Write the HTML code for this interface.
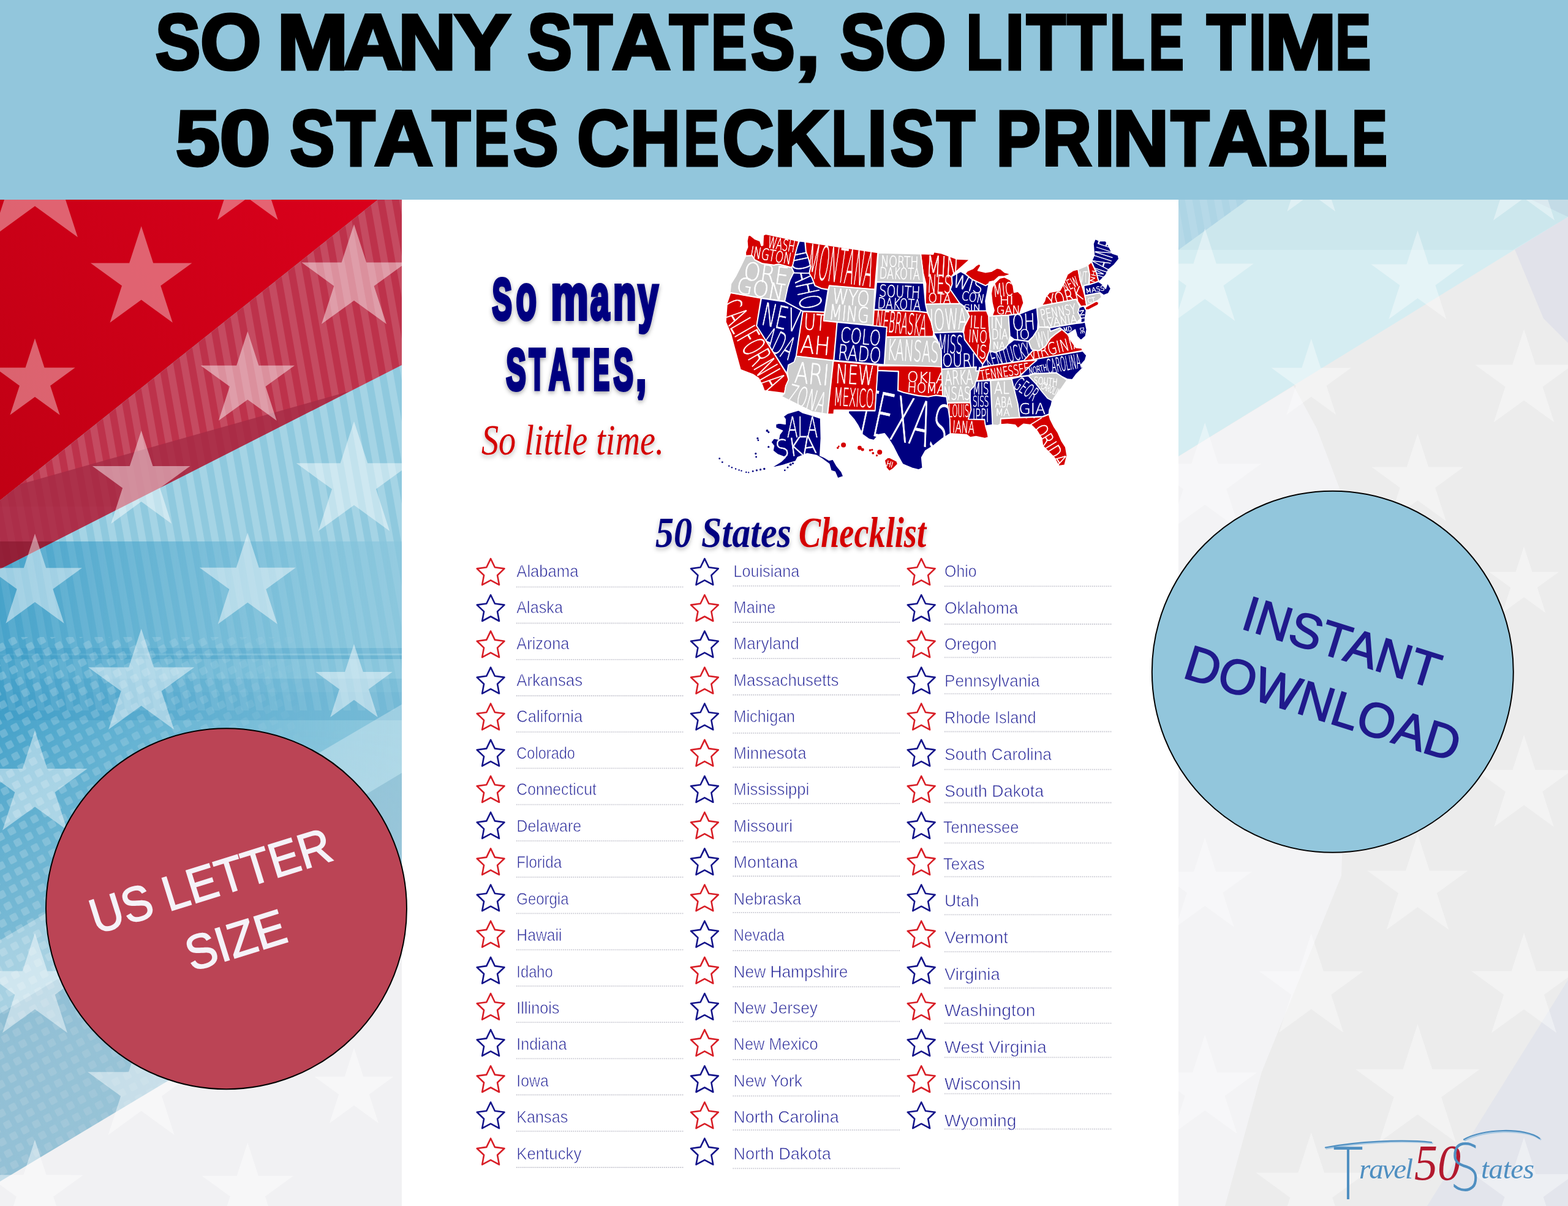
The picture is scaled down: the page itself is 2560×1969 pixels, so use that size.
<!DOCTYPE html>
<html lang="en"><head><meta charset="utf-8"><title>So Many States, So Little Time - 50 States Checklist Printable</title>
<style>html,body{margin:0;padding:0;background:#fff}body{width:2560px;height:1969px;overflow:hidden}svg{display:block}text{white-space:pre}</style></head><body>
<svg width="2560" height="1969" viewBox="0 0 2560 1969">
<defs>
<filter id="ts" x="-10%" y="-20%" width="120%" height="150%"><feDropShadow dx="0" dy="3" stdDeviation="3.5" flood-color="#000" flood-opacity="0.35"/></filter>
<filter id="ts2" x="-10%" y="-20%" width="120%" height="150%"><feDropShadow dx="0" dy="4" stdDeviation="3.5" flood-color="#000" flood-opacity="0.28"/></filter>
<clipPath id="clipL"><rect x="0" y="326" width="656" height="1643"/></clipPath>
<clipPath id="clipR"><rect x="1924" y="326" width="636" height="1643"/></clipPath>
<clipPath id="clipBand"><polygon points="617,326 656,326 656,596 0,929 0,817"/></clipPath>
<clipPath id="clipBlue"><polygon points="656,596 656,1969 0,1969 0,929"/></clipPath>
<pattern id="stripe" width="23.4" height="200" patternUnits="userSpaceOnUse" patternTransform="rotate(-10)"><rect x="0" y="0" width="11.7" height="200" fill="#fff"/></pattern>
<pattern id="half" width="21" height="21" patternUnits="userSpaceOnUse" patternTransform="rotate(-28)"><rect x="4" y="4" width="12" height="12" rx="2" fill="#fff"/></pattern>
<linearGradient id="gSat" x1="0" y1="0" x2="656" y2="0" gradientUnits="userSpaceOnUse"><stop offset="0" stop-color="#3b9cc6" stop-opacity="0.85"/><stop offset="0.45" stop-color="#4aa5cc" stop-opacity="0.5"/><stop offset="1" stop-color="#6fbad8" stop-opacity="0.12"/></linearGradient>
<linearGradient id="gSatV" x1="0" y1="884" x2="0" y2="1969" gradientUnits="userSpaceOnUse"><stop offset="0" stop-color="#fff" stop-opacity="1"/><stop offset="0.28" stop-color="#fff" stop-opacity="1"/><stop offset="0.6" stop-color="#fff" stop-opacity="0.55"/><stop offset="1" stop-color="#fff" stop-opacity="0.35"/></linearGradient>
<mask id="mSat"><rect x="0" y="884" width="656" height="1085" fill="url(#gSatV)"/></mask>
<linearGradient id="gHalf" x1="0" y1="0" x2="520" y2="0" gradientUnits="userSpaceOnUse"><stop offset="0" stop-color="#fff" stop-opacity="1"/><stop offset="0.6" stop-color="#fff" stop-opacity="0.6"/><stop offset="1" stop-color="#fff" stop-opacity="0"/></linearGradient>
<mask id="mHalf"><rect x="0" y="1040" width="656" height="930" fill="url(#gHalf)"/></mask>
<linearGradient id="gRed" x1="0" y1="800" x2="600" y2="330" gradientUnits="userSpaceOnUse"><stop offset="0" stop-color="#c10014"/><stop offset="1" stop-color="#d9001b"/></linearGradient>
<linearGradient id="gMute" x1="0" y1="1200" x2="0" y2="1700" gradientUnits="userSpaceOnUse"><stop offset="0" stop-color="#c3d3dc" stop-opacity="0"/><stop offset="1" stop-color="#c3d3dc" stop-opacity="0.3"/></linearGradient>
</defs>

<g clip-path="url(#clipL)">
<rect x="0" y="326" width="656" height="1643" fill="#8fc9de"/>
<!-- saturated blue, fades to the right and down -->
<g mask="url(#mSat)"><rect x="0" y="884" width="656" height="1085" fill="url(#gSat)"/></g>
<!-- horizontal dark bands -->
<g fill="#2b8fbe">
<rect x="0" y="1058" width="656" height="9" fill-opacity="0.22"/>
<rect x="0" y="1070" width="656" height="6" fill-opacity="0.3"/>
<rect x="0" y="1108" width="656" height="22" fill-opacity="0.16"/>
<rect x="0" y="1130" width="656" height="46" fill-opacity="0.22"/>
</g>
<!-- halftone squares -->
<g mask="url(#mHalf)"><rect x="0" y="1040" width="656" height="930" fill="url(#half)" fill-opacity="0.2"/></g>
<!-- stripes on blue -->
<g clip-path="url(#clipBlue)"><rect x="0" y="560" width="656" height="324" fill="url(#stripe)" fill-opacity="0.2"/><rect x="0" y="884" width="656" height="276" fill="url(#stripe)" fill-opacity="0.08"/></g>
<!-- white wedges -->
<rect x="0" y="1200" width="656" height="769" fill="url(#gMute)"/>
<polygon points="656,1150 656,1262 0,1655 0,1535" fill="#fff" fill-opacity="0.3"/>
<polygon points="656,1262 656,1969 0,1969 0,1655" fill="#a9bfd0" fill-opacity="0.3"/>
<polygon points="0,1929 272,1766 656,1535 656,1969 0,1969" fill="#f1f1f3"/>
<!-- red -->
<polygon points="0,326 617,326 0,817" fill="url(#gRed)"/>
<!-- crimson band -->
<polygon points="617,326 656,326 656,596 0,929 0,817" fill="#bd324b"/>
<g clip-path="url(#clipBand)">
<rect x="0" y="326" width="656" height="620" fill="url(#stripe)" fill-opacity="0.12"/>
<polygon points="0,800 570,639 0,935" fill="#a52b45" fill-opacity="0.8"/>
<rect x="0" y="884" width="656" height="60" fill="#7c1026" fill-opacity="0.5"/>
<rect x="0" y="827" width="656" height="57" fill="#c04560" fill-opacity="0.12"/>
</g>

<g fill="#fff" fill-opacity="0.39"><polygon points="57.0,172.0 83.7,254.2 170.2,254.2 100.2,305.0 126.9,387.3 57.0,336.5 -12.9,387.3 13.8,305.0 -56.2,254.2 30.3,254.2"/><polygon points="404.3,207.0 423.2,265.0 484.2,265.0 434.8,300.9 453.7,359.0 404.3,323.1 354.9,359.0 373.8,300.9 324.4,265.0 385.4,265.0"/><polygon points="230.7,369.3 250.2,429.4 313.4,429.4 262.3,466.6 281.8,526.7 230.7,489.5 179.5,526.7 199.0,466.6 147.9,429.4 211.1,429.4"/><polygon points="57.0,552.6 72.5,600.3 122.6,600.3 82.1,629.7 97.6,677.4 57.0,648.0 16.4,677.4 31.9,629.7 -8.6,600.3 41.5,600.3"/></g><g fill="#fff" fill-opacity="0.46"><polygon points="578.0,366.3 598.2,428.5 663.5,428.5 610.6,466.9 630.9,529.1 578.0,490.7 525.0,529.1 545.3,466.9 492.4,428.5 557.7,428.5"/><polygon points="404.3,541.0 422.4,596.7 481.0,596.7 433.6,631.1 451.7,686.8 404.3,652.4 356.9,686.8 375.0,631.1 327.6,596.7 386.2,596.7"/><polygon points="230.7,702.9 249.5,760.9 310.5,760.9 261.2,796.8 280.0,854.9 230.7,819.0 181.3,854.9 200.1,796.8 150.8,760.9 211.8,760.9"/><polygon points="578.0,687.9 600.2,756.3 672.1,756.3 613.9,798.6 636.1,867.0 578.0,824.7 519.8,867.0 542.0,798.6 483.8,756.3 555.7,756.3"/><polygon points="57.0,871.2 75.2,927.2 134.0,927.2 86.4,961.8 104.6,1017.7 57.0,983.1 9.4,1017.7 27.6,961.8 -20.0,927.2 38.8,927.2"/><polygon points="404.3,869.7 422.8,926.7 482.8,926.7 434.3,961.9 452.8,1018.9 404.3,983.7 355.8,1018.9 374.3,961.9 325.8,926.7 385.8,926.7"/><polygon points="230.7,1026.5 251.1,1089.4 317.2,1089.4 263.7,1128.2 284.1,1191.1 230.7,1152.3 177.2,1191.1 197.6,1128.2 144.1,1089.4 210.2,1089.4"/><polygon points="578.0,1051.5 592.8,1097.1 640.7,1097.1 601.9,1125.3 616.7,1170.9 578.0,1142.7 539.2,1170.9 554.0,1125.3 515.2,1097.1 563.1,1097.1"/><polygon points="57.0,1192.8 77.2,1255.0 142.6,1255.0 89.7,1293.4 109.9,1355.6 57.0,1317.2 4.1,1355.6 24.3,1293.4 -28.6,1255.0 36.8,1255.0"/><polygon points="404.3,1197.8 423.4,1256.5 485.1,1256.5 435.2,1292.8 454.3,1351.6 404.3,1315.3 354.3,1351.6 373.4,1292.8 323.5,1256.5 385.2,1256.5"/><polygon points="230.7,1363.1 249.7,1421.8 311.5,1421.8 261.5,1458.1 280.6,1516.9 230.7,1480.6 180.7,1516.9 199.8,1458.1 149.8,1421.8 211.6,1421.8"/><polygon points="578.0,1363.1 597.0,1421.8 658.8,1421.8 608.8,1458.1 627.9,1516.9 578.0,1480.6 528.0,1516.9 547.1,1458.1 497.1,1421.8 558.9,1421.8"/><polygon points="57.0,1523.4 77.2,1585.6 142.6,1585.6 89.7,1624.0 109.9,1686.2 57.0,1647.8 4.1,1686.2 24.3,1624.0 -28.6,1585.6 36.8,1585.6"/><polygon points="404.3,1528.4 423.4,1587.1 485.1,1587.1 435.2,1623.4 454.3,1682.2 404.3,1645.9 354.3,1682.2 373.4,1623.4 323.5,1587.1 385.2,1587.1"/><polygon points="230.7,1686.7 251.3,1750.3 318.1,1750.3 264.1,1789.6 284.7,1853.1 230.7,1813.8 176.6,1853.1 197.2,1789.6 143.2,1750.3 210.0,1750.3"/><polygon points="578.0,1710.7 593.2,1757.7 642.6,1757.7 602.7,1786.7 617.9,1833.7 578.0,1804.7 538.0,1833.7 553.2,1786.7 513.3,1757.7 562.7,1757.7"/><polygon points="57.0,1861.0 75.6,1918.3 135.9,1918.4 87.2,1953.8 105.8,2011.1 57.0,1975.7 8.2,2011.1 26.8,1953.8 -21.9,1918.4 38.4,1918.3"/><polygon points="404.3,1865.4 421.9,1919.7 479.1,1919.7 432.9,1953.3 450.5,2007.6 404.3,1974.0 358.1,2007.6 375.7,1953.3 329.5,1919.7 386.7,1919.7"/></g>
</g>
<g clip-path="url(#clipR)">
<rect x="1924" y="326" width="636" height="1643" fill="#ececec"/>
<polygon points="1924,745 2112,630 2150,700 2188,800 2205,1000 2190,1430 2060,1750 2000,1969 1924,1969" fill="#f3f3f5"/>
<polygon points="2470,400 2560,354 2560,560 2520,520" fill="#e1e2ea"/>
<polygon points="2560,1600 2560,1969 2330,1969" fill="#e3e5ec"/>
<polygon points="1924,326 2560,326 2560,354 1924,745" fill="#d5edf2"/>
<polygon points="1924,326 2560,326 2560,354 2470,408 1924,408" fill="#c4e1ea" fill-opacity="0.55"/>
<polygon points="1924,326 2037,326 1924,408" fill="#aed5e5"/>
<polygon points="1924,326 2037,326 1924,408" fill="url(#stripe)" fill-opacity="0.1"/>
<polygon points="2500,326 2560,326 2560,354" fill="#c3dbe6"/>

<g fill="#fff" fill-opacity="0.38"><polygon points="2140.8,224.0 2155.8,270.3 2204.5,270.3 2165.1,298.9 2180.2,345.2 2140.8,316.6 2101.4,345.2 2116.5,298.9 2077.1,270.3 2125.8,270.3"/><polygon points="2488.1,206.0 2507.2,264.7 2568.9,264.7 2519.0,301.0 2538.1,359.8 2488.1,323.5 2438.1,359.8 2457.2,301.0 2407.3,264.7 2469.0,264.7"/><polygon points="1967.2,372.7 1985.9,430.5 2046.7,430.5 1997.5,466.2 2016.3,523.9 1967.2,488.2 1918.0,523.9 1936.8,466.2 1887.6,430.5 1948.4,430.5"/><polygon points="2314.5,376.3 2332.4,431.6 2390.5,431.6 2343.5,465.7 2361.5,521.0 2314.5,486.9 2267.4,521.0 2285.4,465.7 2238.4,431.6 2296.5,431.6"/><polygon points="2140.8,553.0 2156.2,600.4 2206.0,600.4 2165.7,629.7 2181.1,677.1 2140.8,647.8 2100.5,677.1 2115.9,629.7 2075.6,600.4 2125.4,600.4"/><polygon points="2488.1,537.6 2507.0,595.6 2568.0,595.6 2518.6,631.5 2537.5,689.6 2488.1,653.7 2438.7,689.6 2457.6,631.5 2408.2,595.6 2469.2,595.6"/><polygon points="1967.2,689.9 1988.9,756.9 2059.4,756.9 2002.4,798.4 2024.2,865.4 1967.2,824.0 1910.1,865.4 1931.9,798.4 1874.9,756.9 1945.4,756.9"/><polygon points="2314.5,707.9 2332.2,762.5 2389.6,762.5 2343.2,796.2 2360.9,850.8 2314.5,817.1 2268.0,850.8 2285.7,796.2 2239.3,762.5 2296.7,762.5"/><polygon points="2140.8,872.2 2158.8,927.5 2216.9,927.5 2169.9,961.6 2187.8,1016.9 2140.8,982.8 2093.8,1016.9 2111.7,961.6 2064.7,927.5 2122.8,927.5"/><polygon points="2488.1,892.2 2501.6,933.7 2545.2,933.7 2509.9,959.3 2523.4,1000.7 2488.1,975.1 2452.8,1000.7 2466.3,959.3 2431.0,933.7 2474.6,933.7"/><polygon points="1967.2,1032.5 1986.2,1091.2 2048.0,1091.2 1998.0,1127.5 2017.1,1186.3 1967.2,1150.0 1917.2,1186.3 1936.3,1127.5 1886.3,1091.2 1948.1,1091.2"/><polygon points="2314.5,1032.5 2333.5,1091.2 2395.3,1091.2 2345.3,1127.5 2364.4,1186.3 2314.5,1150.0 2264.5,1186.3 2283.6,1127.5 2233.6,1091.2 2295.4,1091.2"/><polygon points="2140.8,1197.8 2159.9,1256.5 2221.6,1256.5 2171.7,1292.8 2190.8,1351.6 2140.8,1315.3 2090.8,1351.6 2109.9,1292.8 2060.0,1256.5 2121.7,1256.5"/><polygon points="2488.1,1199.8 2506.7,1257.1 2567.0,1257.2 2518.3,1292.6 2536.9,1349.9 2488.1,1314.5 2439.3,1349.9 2457.9,1292.6 2409.2,1257.2 2469.5,1257.1"/><polygon points="1967.2,1367.4 1985.3,1423.2 2043.9,1423.2 1996.5,1457.6 2014.6,1513.4 1967.2,1478.9 1919.7,1513.4 1937.8,1457.6 1890.4,1423.2 1949.0,1423.2"/><polygon points="2314.5,1361.6 2333.9,1421.4 2396.7,1421.4 2345.9,1458.3 2365.3,1518.1 2314.5,1481.1 2263.6,1518.1 2283.0,1458.3 2232.2,1421.4 2295.0,1421.4"/><polygon points="2140.8,1524.0 2160.9,1585.8 2225.8,1585.8 2173.3,1624.0 2193.3,1685.7 2140.8,1647.6 2088.3,1685.7 2108.3,1624.0 2055.8,1585.8 2120.7,1585.8"/><polygon points="2488.1,1522.9 2508.4,1585.4 2574.2,1585.4 2521.0,1624.1 2541.3,1686.6 2488.1,1648.0 2434.9,1686.6 2455.2,1624.1 2402.0,1585.4 2467.8,1585.4"/><polygon points="1967.2,1689.3 1987.2,1751.1 2052.2,1751.1 1999.6,1789.3 2019.7,1851.0 1967.2,1812.9 1914.6,1851.0 1934.7,1789.3 1882.1,1751.1 1947.1,1751.1"/><polygon points="2314.5,1672.0 2338.4,1745.7 2415.9,1745.7 2353.2,1791.3 2377.2,1865.0 2314.5,1819.5 2251.7,1865.0 2275.7,1791.3 2213.0,1745.7 2290.5,1745.7"/><polygon points="2140.8,1849.0 2162.1,1914.6 2231.2,1914.6 2175.3,1955.2 2196.6,2020.9 2140.8,1980.3 2085.0,2020.9 2106.3,1955.2 2050.4,1914.6 2119.5,1914.6"/><polygon points="2488.1,1857.0 2507.6,1917.1 2570.8,1917.1 2519.7,1954.3 2539.2,2014.4 2488.1,1977.2 2437.0,2014.4 2456.5,1954.3 2405.4,1917.1 2468.6,1917.1"/></g>
</g>
<rect x="656" y="326" width="1268" height="1643" fill="#fff"/>
<clipPath id="cWA"><polygon points="1221.4,384.8 1224.8,384.0 1232.3,390.2 1240.8,393.4 1243.2,401.1 1245.5,400.4 1246.3,384.0 1250.2,382.1 1303.9,393.7 1301.5,403.5 1298.0,416.7 1294.5,432.3 1292.2,436.6 1271.2,431.0 1263.4,432.6 1244.7,430.2 1232.3,424.0 1227.9,417.0 1217.5,417.5 1217.2,412.0 1220.6,403.5 1219.8,393.4"/></clipPath>
<clipPath id="cOR"><polygon points="1217.5,417.9 1227.9,417.5 1232.3,424.5 1244.7,430.7 1263.4,433.0 1271.2,431.5 1292.2,437.1 1296.1,444.7 1289.9,457.2 1286.0,469.6 1281.3,491.7 1242.4,486.4 1191.8,477.7 1193.4,463.4 1201.1,451.0 1210.5,432.3"/></clipPath>
<clipPath id="cID"><polygon points="1305.1,393.7 1314.0,394.6 1315.6,410.5 1319.5,421.4 1323.3,435.4 1321.0,446.3 1325.7,454.1 1330.3,466.5 1341.2,471.2 1351.8,473.1 1346.2,509.3 1310.6,507.9 1281.3,492.2 1286.0,469.6 1289.9,457.2 1296.1,444.7 1292.7,436.9 1294.5,432.3 1298.0,416.7 1301.5,403.5"/></clipPath>
<clipPath id="cMT"><polygon points="1314.8,394.9 1433.1,412.3 1428.1,472.3 1354.0,466.1 1352.1,472.7 1341.2,470.9 1330.7,466.2 1326.0,454.1 1321.3,446.3 1323.7,435.4 1319.8,421.4 1315.9,410.5"/></clipPath>
<clipPath id="cWY"><polygon points="1354.0,466.5 1428.0,472.7 1425.3,531.1 1344.7,523.3"/></clipPath>
<clipPath id="cND"><polygon points="1433.9,412.8 1503.2,414.7 1507.0,444.7 1507.8,461.9 1431.2,460.0"/></clipPath>
<clipPath id="cSD"><polygon points="1431.2,460.6 1507.8,462.5 1510.9,496.9 1514.0,510.1 1496.9,507.8 1427.2,505.1"/></clipPath>
<clipPath id="cNE"><polygon points="1427.2,505.8 1496.9,508.4 1514.0,510.7 1520.3,525.7 1524.2,543.1 1523.4,549.0 1446.8,549.8 1447.9,533.8 1425.3,531.9"/></clipPath>
<clipPath id="cKS"><polygon points="1447.1,550.3 1523.4,549.5 1531.2,556.8 1536.6,572.4 1536.9,598.8 1444.0,595.3"/></clipPath>
<clipPath id="cCO"><polygon points="1366.9,526.1 1425.3,531.9 1447.6,534.2 1443.5,595.3 1361.5,588.3"/></clipPath>
<clipPath id="cUT"><polygon points="1310.9,508.6 1345.9,509.8 1344.7,523.8 1366.5,526.1 1361.0,588.3 1300.0,581.3"/></clipPath>
<clipPath id="cNV"><polygon points="1243.2,487.1 1281.3,492.7 1310.6,508.2 1299.7,581.3 1296.4,591.1 1287.1,595.7 1284.7,609.7 1235.4,531.9"/></clipPath>
<clipPath id="cCA"><polygon points="1192.6,478.2 1242.4,486.8 1235.1,531.9 1284.4,610.2 1287.5,619.9 1282.9,630.0 1280.8,642.1 1247.8,637.8 1244.4,628.4 1238.5,617.5 1229.2,611.3 1208.9,603.5 1199.6,569.3 1193.4,545.9 1184.8,525.7 1187.1,494.5"/></clipPath>
<clipPath id="cAZ"><polygon points="1286.8,595.8 1288.3,591.1 1296.1,590.4 1299.5,581.5 1360.2,588.8 1350.9,676.0 1325.7,672.1 1275.9,647.2 1280.8,642.5 1282.9,630.1 1287.5,619.9 1285.2,606.7"/></clipPath>
<clipPath id="cNM"><polygon points="1360.7,589.3 1433.4,596.1 1428.7,670.2 1361.8,669.4 1361.2,676.0 1351.4,676.0"/></clipPath>
<clipPath id="cTX"><polygon points="1433.1,605.1 1466.6,606.7 1465.8,637.8 1475.1,641.0 1489.1,644.1 1500.0,646.4 1515.6,648.0 1528.1,645.6 1539.0,647.2 1545.2,648.0 1546.7,658.1 1548.3,669.0 1550.6,684.5 1551.4,707.9 1539.0,715.7 1523.4,728.1 1510.9,735.9 1504.7,746.8 1506.3,763.9 1500.0,767.1 1489.1,764.3 1473.6,757.7 1465.8,743.7 1458.0,728.1 1450.2,715.7 1444.0,707.9 1434.7,709.5 1426.9,718.8 1419.1,717.2 1408.2,709.5 1400.4,693.9 1394.2,684.5 1385.1,674.4 1385.6,670.5 1428.7,670.8"/></clipPath>
<clipPath id="cOK"><polygon points="1433.4,597.1 1536.9,597.7 1537.4,602.8 1539.0,646.4 1528.1,645.2 1515.6,647.5 1500.0,645.9 1489.1,643.6 1475.1,640.5 1466.3,637.4 1467.0,606.2 1433.4,604.7"/></clipPath>
<clipPath id="cAK"><polygon points="1279.0,679.9 1285.2,675.2 1303.9,669.8 1310.1,673.6 1325.7,678.3 1339.7,683.0 1340.5,715.7 1338.9,743.7 1345.9,746.8 1353.7,751.5 1359.9,749.9 1366.2,760.8 1373.9,770.2 1377.1,777.9 1367.7,781.1 1363.0,770.2 1356.8,768.6 1353.7,757.7 1341.2,748.4 1333.5,743.7 1317.9,740.6 1302.3,746.8 1299.2,753.0 1288.3,756.2 1279.0,759.3 1266.5,762.4 1257.2,763.9 1263.4,760.8 1275.9,753.0 1282.1,746.8 1269.6,742.1 1261.9,735.9 1263.4,728.1 1258.7,721.9 1263.4,715.7 1271.2,717.2 1272.7,709.5 1277.4,703.2 1266.5,698.6 1266.5,692.3 1272.7,690.8 1282.1,692.3 1282.1,684.5"/></clipPath>
<clipPath id="cHI"><polygon points="1444.0,751.5 1450.2,746.0 1464.2,753.0 1465.8,757.7 1458.0,765.5 1451.8,769.4 1447.1,763.9"/></clipPath>
<clipPath id="cMN"><polygon points="1503.1,414.4 1523.4,415.1 1524.9,411.3 1537.4,413.6 1562.3,422.9 1581.0,423.7 1582.0,424.8 1568.5,436.9 1557.6,446.3 1553.7,451.0 1554.5,463.4 1551.4,472.7 1562.3,488.3 1566.9,495.3 1510.9,496.4 1511.7,463.4 1507.0,444.7"/></clipPath>
<clipPath id="cWI"><polygon points="1554.0,451.3 1568.5,443.2 1576.3,447.8 1587.2,456.4 1609.0,466.5 1614.4,463.4 1612.1,475.9 1609.0,491.4 1610.5,507.0 1577.8,507.3 1573.2,499.5 1566.9,494.9 1562.3,488.3 1551.7,472.7 1554.8,463.4"/></clipPath>
<clipPath id="cMI"><polygon points="1619.9,469.6 1624.5,461.9 1632.3,454.1 1640.1,452.5 1649.5,457.2 1654.1,466.5 1655.7,477.4 1661.9,475.9 1668.1,482.1 1671.2,494.5 1667.4,503.9 1665.0,512.0 1646.3,514.3 1619.9,515.6 1623.0,507.0 1619.9,494.5 1618.3,479.0"/></clipPath>
<clipPath id="cIA"><polygon points="1511.2,496.9 1566.9,495.8 1573.2,500.0 1577.8,507.8 1582.5,516.6 1577.8,525.7 1574.7,531.9 1571.1,541.6 1524.4,543.1 1520.5,525.7 1514.3,510.1"/></clipPath>
<clipPath id="cIL"><polygon points="1579.4,508.2 1610.5,507.5 1614.0,516.3 1614.7,533.5 1617.1,556.8 1615.5,572.4 1609.0,587.9 1604.3,594.5 1599.6,588.3 1587.2,571.1 1574.7,554.0 1573.2,543.1 1575.0,532.7 1582.8,517.1"/></clipPath>
<clipPath id="cIN"><polygon points="1614.4,516.3 1646.3,514.8 1648.7,549.0 1646.3,561.5 1640.1,569.3 1632.3,572.4 1624.5,575.5 1615.5,572.4 1617.1,556.8 1614.7,533.5"/></clipPath>
<clipPath id="cOH"><polygon points="1646.6,514.8 1665.0,512.4 1679.0,507.0 1692.6,502.3 1694.6,525.7 1693.8,538.1 1686.8,549.0 1679.0,556.8 1668.1,555.6 1655.7,554.0 1649.0,549.0"/></clipPath>
<clipPath id="cKY"><polygon points="1604.3,595.3 1609.0,588.3 1615.5,572.7 1624.5,575.8 1632.3,572.7 1640.1,569.6 1646.3,561.8 1655.7,554.6 1668.1,556.2 1679.0,557.4 1683.7,569.6 1686.8,571.6 1671.2,588.7 1616.8,596.8 1602.7,598.8 1603.5,595.3"/></clipPath>
<clipPath id="cWV"><polygon points="1679.3,557.1 1686.8,549.3 1694.1,538.4 1696.5,533.8 1713.3,535.0 1714.8,541.2 1730.4,535.3 1733.5,537.7 1724.2,544.4 1714.8,552.1 1707.1,564.6 1696.2,572.4 1687.1,571.1 1684.0,569.6"/></clipPath>
<clipPath id="cVA"><polygon points="1671.6,588.7 1687.1,571.9 1696.5,572.7 1707.4,564.9 1715.1,552.5 1724.5,544.7 1733.8,538.1 1742.9,545.9 1749.1,556.8 1756.9,567.7 1766.2,568.5 1767.3,572.4 1672.8,589.5"/></clipPath>
<clipPath id="cPA"><polygon points="1693.0,502.6 1700.8,499.5 1756.9,488.6 1763.1,500.8 1760.0,510.1 1764.7,519.5 1756.9,527.5 1713.3,534.6 1696.5,533.5 1694.9,525.7"/></clipPath>
<clipPath id="cNY"><polygon points="1700.8,498.9 1705.5,491.4 1707.1,485.2 1713.3,477.4 1730.4,474.3 1736.6,463.4 1742.9,447.8 1752.2,441.6 1760.0,439.6 1763.1,457.2 1767.8,471.2 1770.9,482.4 1774.0,499.2 1764.7,500.0 1756.9,488.3"/></clipPath>
<clipPath id="cNJ"><polygon points="1761.9,502.3 1769.3,499.5 1773.5,507.0 1772.0,516.3 1771.2,525.7 1764.7,527.2 1765.0,519.5 1760.3,510.1"/></clipPath>
<clipPath id="cMD"><polygon points="1713.6,535.3 1756.9,528.2 1764.7,527.5 1771.7,526.0 1774.3,538.1 1772.4,549.0 1764.7,555.6 1758.4,549.0 1755.3,538.1 1743.2,545.6 1733.8,537.7 1730.4,535.0 1715.1,540.9"/></clipPath>
<clipPath id="cVT"><polygon points="1760.3,439.6 1775.6,433.4 1778.7,447.8 1777.4,463.7 1769.6,466.1 1768.1,471.2 1763.4,457.2"/></clipPath>
<clipPath id="cNH"><polygon points="1776.3,432.6 1781.8,427.9 1789.6,444.7 1793.5,459.0 1778.7,464.2 1779.0,447.8"/></clipPath>
<clipPath id="cME"><polygon points="1782.1,426.8 1786.4,416.7 1784.9,398.0 1788.0,390.2 1795.8,393.4 1805.1,393.4 1809.8,401.1 1816.0,413.6 1825.4,416.7 1826.9,422.9 1819.1,432.3 1809.8,440.1 1805.1,449.4 1795.8,458.7 1793.8,458.7 1789.9,444.7"/></clipPath>
<clipPath id="cMA"><polygon points="1769.6,466.5 1778.7,464.7 1793.5,459.8 1798.9,463.4 1805.1,471.2 1808.2,461.9 1813.7,471.2 1809.8,479.0 1802.0,482.1 1795.8,477.7 1771.2,482.4"/></clipPath>
<clipPath id="cCT"><polygon points="1771.2,482.9 1795.8,478.2 1798.9,485.2 1792.7,490.2 1774.3,499.2"/></clipPath>
<clipPath id="cMO"><polygon points="1524.4,543.6 1571.1,542.0 1573.2,543.6 1574.7,554.5 1587.2,571.6 1599.6,588.7 1604.3,595.3 1602.7,600.7 1598.9,599.9 1598.1,605.4 1593.4,605.4 1594.2,599.2 1537.4,602.3 1536.9,572.4 1531.4,556.8"/></clipPath>
<clipPath id="cTN"><polygon points="1599.6,601.3 1616.8,597.4 1671.2,589.6 1693.0,588.0 1683.7,595.8 1674.4,605.1 1663.5,614.5 1616.8,619.9 1595.0,621.5 1597.3,611.4"/></clipPath>
<clipPath id="cNC"><polygon points="1672.8,589.6 1767.8,573.2 1774.0,580.2 1771.7,588.0 1764.7,595.8 1767.8,600.5 1756.9,611.4 1750.6,619.9 1742.9,619.2 1733.5,614.5 1724.2,608.3 1710.2,609.0 1686.8,609.8 1679.0,612.9 1665.0,614.5 1674.4,605.1 1683.7,595.8 1693.0,588.0"/></clipPath>
<clipPath id="cSC"><polygon points="1679.0,613.7 1686.8,610.6 1710.2,609.5 1724.2,608.6 1733.5,614.8 1742.1,620.7 1733.5,633.2 1722.6,647.2 1717.9,654.2 1710.2,650.3 1702.4,641.0 1691.5,626.9"/></clipPath>
<clipPath id="cGA"><polygon points="1651.8,618.4 1665.0,615.3 1679.0,613.7 1691.5,626.9 1702.4,641.0 1710.2,650.3 1717.9,654.2 1716.4,661.2 1713.3,669.0 1712.5,676.0 1702.4,679.9 1665.0,681.4 1661.9,659.6 1655.7,634.7"/></clipPath>
<clipPath id="cAL"><polygon points="1617.5,621.5 1651.8,618.8 1655.7,634.7 1661.9,659.6 1664.7,681.4 1633.9,683.0 1633.1,692.3 1629.2,694.7 1620.7,693.9 1619.9,684.5"/></clipPath>
<clipPath id="cMS"><polygon points="1593.4,622.3 1616.8,621.5 1619.9,684.5 1620.3,693.6 1609.0,695.4 1607.4,684.5 1581.0,684.5 1585.6,669.0 1584.1,653.4 1584.1,637.8 1591.9,628.5"/></clipPath>
<clipPath id="cFL"><polygon points="1633.6,683.8 1664.7,682.2 1702.4,680.7 1712.5,676.8 1714.8,684.5 1721.1,697.0 1727.3,706.3 1733.5,720.3 1739.7,729.7 1742.1,743.7 1738.2,759.3 1728.8,760.8 1721.1,746.8 1710.2,735.9 1702.4,728.1 1700.8,715.7 1693.0,703.2 1683.7,693.9 1671.2,692.3 1661.9,699.3 1657.2,693.9 1644.8,692.3 1633.9,693.1"/></clipPath>
<clipPath id="cLA"><polygon points="1546.7,658.1 1584.1,657.3 1585.6,669.0 1581.0,684.5 1607.4,685.3 1609.0,696.2 1612.1,706.3 1613.6,714.1 1607.4,715.7 1593.4,712.6 1584.1,714.1 1577.8,709.5 1551.4,707.9 1550.6,684.5 1548.3,669.0"/></clipPath>
<clipPath id="cAR"><polygon points="1537.4,602.8 1593.4,599.7 1593.4,605.9 1598.1,605.9 1596.5,612.9 1593.4,622.3 1591.9,628.5 1584.1,637.8 1584.1,656.5 1546.7,657.3 1545.1,647.2 1538.9,646.4"/></clipPath>
<g id="usmap" stroke="#fff" stroke-width="1.7" stroke-linejoin="round">
<g fill="#d40000"><polygon points="1221.4,384.8 1224.8,384.0 1232.3,390.2 1240.8,393.4 1243.2,401.1 1245.5,400.4 1246.3,384.0 1250.2,382.1 1303.9,393.7 1301.5,403.5 1298.0,416.7 1294.5,432.3 1292.2,436.6 1271.2,431.0 1263.4,432.6 1244.7,430.2 1232.3,424.0 1227.9,417.0 1217.5,417.5 1217.2,412.0 1220.6,403.5 1219.8,393.4"/><polygon points="1314.8,394.9 1433.1,412.3 1428.1,472.3 1354.0,466.1 1352.1,472.7 1341.2,470.9 1330.7,466.2 1326.0,454.1 1321.3,446.3 1323.7,435.4 1319.8,421.4 1315.9,410.5"/><polygon points="1427.2,505.8 1496.9,508.4 1514.0,510.7 1520.3,525.7 1524.2,543.1 1523.4,549.0 1446.8,549.8 1447.9,533.8 1425.3,531.9"/><polygon points="1310.9,508.6 1345.9,509.8 1344.7,523.8 1366.5,526.1 1361.0,588.3 1300.0,581.3"/><polygon points="1192.6,478.2 1242.4,486.8 1235.1,531.9 1284.4,610.2 1287.5,619.9 1282.9,630.0 1280.8,642.1 1247.8,637.8 1244.4,628.4 1238.5,617.5 1229.2,611.3 1208.9,603.5 1199.6,569.3 1193.4,545.9 1184.8,525.7 1187.1,494.5"/><polygon points="1360.7,589.3 1433.4,596.1 1428.7,670.2 1361.8,669.4 1361.2,676.0 1351.4,676.0"/><polygon points="1433.4,597.1 1536.9,597.7 1537.4,602.8 1539.0,646.4 1528.1,645.2 1515.6,647.5 1500.0,645.9 1489.1,643.6 1475.1,640.5 1466.3,637.4 1467.0,606.2 1433.4,604.7"/><polygon points="1444.0,751.5 1450.2,746.0 1464.2,753.0 1465.8,757.7 1458.0,765.5 1451.8,769.4 1447.1,763.9"/><polygon points="1503.1,414.4 1523.4,415.1 1524.9,411.3 1537.4,413.6 1562.3,422.9 1581.0,423.7 1582.0,424.8 1568.5,436.9 1557.6,446.3 1553.7,451.0 1554.5,463.4 1551.4,472.7 1562.3,488.3 1566.9,495.3 1510.9,496.4 1511.7,463.4 1507.0,444.7"/><polygon points="1576.3,446.3 1579.4,442.4 1588.7,438.5 1593.4,433.8 1598.9,430.7 1601.2,433.8 1596.5,441.6 1609.0,444.7 1618.3,443.2 1627.7,437.7 1633.9,439.3 1640.1,444.7 1647.1,446.3 1647.9,448.6 1640.1,451.0 1630.8,451.7 1623.0,458.7 1615.2,460.3 1614.4,463.1 1609.0,466.2 1587.2,456.1 1576.6,447.5"/><polygon points="1619.9,469.6 1624.5,461.9 1632.3,454.1 1640.1,452.5 1649.5,457.2 1654.1,466.5 1655.7,477.4 1661.9,475.9 1668.1,482.1 1671.2,494.5 1667.4,503.9 1665.0,512.0 1646.3,514.3 1619.9,515.6 1623.0,507.0 1619.9,494.5 1618.3,479.0"/><polygon points="1579.4,508.2 1610.5,507.5 1614.0,516.3 1614.7,533.5 1617.1,556.8 1615.5,572.4 1609.0,587.9 1604.3,594.5 1599.6,588.3 1587.2,571.1 1574.7,554.0 1573.2,543.1 1575.0,532.7 1582.8,517.1"/><polygon points="1671.6,588.7 1687.1,571.9 1696.5,572.7 1707.4,564.9 1715.1,552.5 1724.5,544.7 1733.8,538.1 1742.9,545.9 1749.1,556.8 1756.9,567.7 1766.2,568.5 1767.3,572.4 1672.8,589.5"/><polygon points="1700.8,498.9 1705.5,491.4 1707.1,485.2 1713.3,477.4 1730.4,474.3 1736.6,463.4 1742.9,447.8 1752.2,441.6 1760.0,439.6 1763.1,457.2 1767.8,471.2 1770.9,482.4 1774.0,499.2 1764.7,500.0 1756.9,488.3"/><polygon points="1772.1,501.5 1789.6,491.9 1793.9,493.5 1793.0,497.7 1777.4,505.8 1772.4,505.8"/><polygon points="1776.3,432.6 1781.8,427.9 1789.6,444.7 1793.5,459.0 1778.7,464.2 1779.0,447.8"/><polygon points="1599.6,601.3 1616.8,597.4 1671.2,589.6 1693.0,588.0 1683.7,595.8 1674.4,605.1 1663.5,614.5 1616.8,619.9 1595.0,621.5 1597.3,611.4"/><polygon points="1633.6,683.8 1664.7,682.2 1702.4,680.7 1712.5,676.8 1714.8,684.5 1721.1,697.0 1727.3,706.3 1733.5,720.3 1739.7,729.7 1742.1,743.7 1738.2,759.3 1728.8,760.8 1721.1,746.8 1710.2,735.9 1702.4,728.1 1700.8,715.7 1693.0,703.2 1683.7,693.9 1671.2,692.3 1661.9,699.3 1657.2,693.9 1644.8,692.3 1633.9,693.1"/><polygon points="1546.7,658.1 1584.1,657.3 1585.6,669.0 1581.0,684.5 1607.4,685.3 1609.0,696.2 1612.1,706.3 1613.6,714.1 1607.4,715.7 1593.4,712.6 1584.1,714.1 1577.8,709.5 1551.4,707.9 1550.6,684.5 1548.3,669.0"/><circle cx="1367.7" cy="731.2" r="1.7" stroke="none"/><circle cx="1369.3" cy="728.9" r="1.4" stroke="none"/><circle cx="1377.1" cy="726.6" r="4.0" stroke="none"/><circle cx="1403.5" cy="731.2" r="3.4" stroke="none"/><circle cx="1408.2" cy="734.0" r="2.5" stroke="none"/><circle cx="1420.6" cy="735.1" r="1.9" stroke="none"/><circle cx="1423.8" cy="734.4" r="1.6" stroke="none"/><circle cx="1425.3" cy="739.8" r="1.9" stroke="none"/><circle cx="1436.2" cy="738.3" r="4.0" stroke="none"/><circle cx="1431.5" cy="743.7" r="1.6" stroke="none"/></g>
<g fill="#cccccc"><polygon points="1217.5,417.9 1227.9,417.5 1232.3,424.5 1244.7,430.7 1263.4,433.0 1271.2,431.5 1292.2,437.1 1296.1,444.7 1289.9,457.2 1286.0,469.6 1281.3,491.7 1242.4,486.4 1191.8,477.7 1193.4,463.4 1201.1,451.0 1210.5,432.3"/><polygon points="1354.0,466.5 1428.0,472.7 1425.3,531.1 1344.7,523.3"/><polygon points="1433.9,412.8 1503.2,414.7 1507.0,444.7 1507.8,461.9 1431.2,460.0"/><polygon points="1447.1,550.3 1523.4,549.5 1531.2,556.8 1536.6,572.4 1536.9,598.8 1444.0,595.3"/><polygon points="1286.8,595.8 1288.3,591.1 1296.1,590.4 1299.5,581.5 1360.2,588.8 1350.9,676.0 1325.7,672.1 1275.9,647.2 1280.8,642.5 1282.9,630.1 1287.5,619.9 1285.2,606.7"/><polygon points="1511.2,496.9 1566.9,495.8 1573.2,500.0 1577.8,507.8 1582.5,516.6 1577.8,525.7 1574.7,531.9 1571.1,541.6 1524.4,543.1 1520.5,525.7 1514.3,510.1"/><polygon points="1614.4,516.3 1646.3,514.8 1648.7,549.0 1646.3,561.5 1640.1,569.3 1632.3,572.4 1624.5,575.5 1615.5,572.4 1617.1,556.8 1614.7,533.5"/><polygon points="1679.3,557.1 1686.8,549.3 1694.1,538.4 1696.5,533.8 1713.3,535.0 1714.8,541.2 1730.4,535.3 1733.5,537.7 1724.2,544.4 1714.8,552.1 1707.1,564.6 1696.2,572.4 1687.1,571.1 1684.0,569.6"/><polygon points="1693.0,502.6 1700.8,499.5 1756.9,488.6 1763.1,500.8 1760.0,510.1 1764.7,519.5 1756.9,527.5 1713.3,534.6 1696.5,533.5 1694.9,525.7"/><polygon points="1760.3,439.6 1775.6,433.4 1778.7,447.8 1777.4,463.7 1769.6,466.1 1768.1,471.2 1763.4,457.2"/><polygon points="1771.2,482.9 1795.8,478.2 1798.9,485.2 1792.7,490.2 1774.3,499.2"/><polygon points="1679.0,613.7 1686.8,610.6 1710.2,609.5 1724.2,608.6 1733.5,614.8 1742.1,620.7 1733.5,633.2 1722.6,647.2 1717.9,654.2 1710.2,650.3 1702.4,641.0 1691.5,626.9"/><polygon points="1617.5,621.5 1651.8,618.8 1655.7,634.7 1661.9,659.6 1664.7,681.4 1633.9,683.0 1633.1,692.3 1629.2,694.7 1620.7,693.9 1619.9,684.5"/><polygon points="1537.4,602.8 1593.4,599.7 1593.4,605.9 1598.1,605.9 1596.5,612.9 1593.4,622.3 1591.9,628.5 1584.1,637.8 1584.1,656.5 1546.7,657.3 1545.1,647.2 1538.9,646.4"/></g>
<g fill="#000080"><polygon points="1305.1,393.7 1314.0,394.6 1315.6,410.5 1319.5,421.4 1323.3,435.4 1321.0,446.3 1325.7,454.1 1330.3,466.5 1341.2,471.2 1351.8,473.1 1346.2,509.3 1310.6,507.9 1281.3,492.2 1286.0,469.6 1289.9,457.2 1296.1,444.7 1292.7,436.9 1294.5,432.3 1298.0,416.7 1301.5,403.5"/><polygon points="1431.2,460.6 1507.8,462.5 1510.9,496.9 1514.0,510.1 1496.9,507.8 1427.2,505.1"/><polygon points="1366.9,526.1 1425.3,531.9 1447.6,534.2 1443.5,595.3 1361.5,588.3"/><polygon points="1243.2,487.1 1281.3,492.7 1310.6,508.2 1299.7,581.3 1296.4,591.1 1287.1,595.7 1284.7,609.7 1235.4,531.9"/><polygon points="1433.1,605.1 1466.6,606.7 1465.8,637.8 1475.1,641.0 1489.1,644.1 1500.0,646.4 1515.6,648.0 1528.1,645.6 1539.0,647.2 1545.2,648.0 1546.7,658.1 1548.3,669.0 1550.6,684.5 1551.4,707.9 1539.0,715.7 1523.4,728.1 1510.9,735.9 1504.7,746.8 1506.3,763.9 1500.0,767.1 1489.1,764.3 1473.6,757.7 1465.8,743.7 1458.0,728.1 1450.2,715.7 1444.0,707.9 1434.7,709.5 1426.9,718.8 1419.1,717.2 1408.2,709.5 1400.4,693.9 1394.2,684.5 1385.1,674.4 1385.6,670.5 1428.7,670.8"/><polygon points="1279.0,679.9 1285.2,675.2 1303.9,669.8 1310.1,673.6 1325.7,678.3 1339.7,683.0 1340.5,715.7 1338.9,743.7 1345.9,746.8 1353.7,751.5 1359.9,749.9 1366.2,760.8 1373.9,770.2 1377.1,777.9 1367.7,781.1 1363.0,770.2 1356.8,768.6 1353.7,757.7 1341.2,748.4 1333.5,743.7 1317.9,740.6 1302.3,746.8 1299.2,753.0 1288.3,756.2 1279.0,759.3 1266.5,762.4 1257.2,763.9 1263.4,760.8 1275.9,753.0 1282.1,746.8 1269.6,742.1 1261.9,735.9 1263.4,728.1 1258.7,721.9 1263.4,715.7 1271.2,717.2 1272.7,709.5 1277.4,703.2 1266.5,698.6 1266.5,692.3 1272.7,690.8 1282.1,692.3 1282.1,684.5"/><polygon points="1554.0,451.3 1568.5,443.2 1576.3,447.8 1587.2,456.4 1609.0,466.5 1614.4,463.4 1612.1,475.9 1609.0,491.4 1610.5,507.0 1577.8,507.3 1573.2,499.5 1566.9,494.9 1562.3,488.3 1551.7,472.7 1554.8,463.4"/><polygon points="1646.6,514.8 1665.0,512.4 1679.0,507.0 1692.6,502.3 1694.6,525.7 1693.8,538.1 1686.8,549.0 1679.0,556.8 1668.1,555.6 1655.7,554.0 1649.0,549.0"/><polygon points="1604.3,595.3 1609.0,588.3 1615.5,572.7 1624.5,575.8 1632.3,572.7 1640.1,569.6 1646.3,561.8 1655.7,554.6 1668.1,556.2 1679.0,557.4 1683.7,569.6 1686.8,571.6 1671.2,588.7 1616.8,596.8 1602.7,598.8 1603.5,595.3"/><polygon points="1761.9,502.3 1769.3,499.5 1773.5,507.0 1772.0,516.3 1771.2,525.7 1764.7,527.2 1765.0,519.5 1760.3,510.1"/><polygon points="1713.6,535.3 1756.9,528.2 1764.7,527.5 1771.7,526.0 1774.3,538.1 1772.4,549.0 1764.7,555.6 1758.4,549.0 1755.3,538.1 1743.2,545.6 1733.8,537.7 1730.4,535.0 1715.1,540.9"/><polygon points="1782.1,426.8 1786.4,416.7 1784.9,398.0 1788.0,390.2 1795.8,393.4 1805.1,393.4 1809.8,401.1 1816.0,413.6 1825.4,416.7 1826.9,422.9 1819.1,432.3 1809.8,440.1 1805.1,449.4 1795.8,458.7 1793.8,458.7 1789.9,444.7"/><polygon points="1769.6,466.5 1778.7,464.7 1793.5,459.8 1798.9,463.4 1805.1,471.2 1808.2,461.9 1813.7,471.2 1809.8,479.0 1802.0,482.1 1795.8,477.7 1771.2,482.4"/><polygon points="1524.4,543.6 1571.1,542.0 1573.2,543.6 1574.7,554.5 1587.2,571.6 1599.6,588.7 1604.3,595.3 1602.7,600.7 1598.9,599.9 1598.1,605.4 1593.4,605.4 1594.2,599.2 1537.4,602.3 1536.9,572.4 1531.4,556.8"/><polygon points="1672.8,589.6 1767.8,573.2 1774.0,580.2 1771.7,588.0 1764.7,595.8 1767.8,600.5 1756.9,611.4 1750.6,619.9 1742.9,619.2 1733.5,614.5 1724.2,608.3 1710.2,609.0 1686.8,609.8 1679.0,612.9 1665.0,614.5 1674.4,605.1 1683.7,595.8 1693.0,588.0"/><polygon points="1651.8,618.4 1665.0,615.3 1679.0,613.7 1691.5,626.9 1702.4,641.0 1710.2,650.3 1717.9,654.2 1716.4,661.2 1713.3,669.0 1712.5,676.0 1702.4,679.9 1665.0,681.4 1661.9,659.6 1655.7,634.7"/><polygon points="1593.4,622.3 1616.8,621.5 1619.9,684.5 1620.3,693.6 1609.0,695.4 1607.4,684.5 1581.0,684.5 1585.6,669.0 1584.1,653.4 1584.1,637.8 1591.9,628.5"/><circle cx="1174.7" cy="748.7" r="1.4" stroke="none"/><circle cx="1179.3" cy="754.6" r="1.4" stroke="none"/><circle cx="1190.2" cy="760.8" r="1.2" stroke="none"/><circle cx="1194.9" cy="763.2" r="1.2" stroke="none"/><circle cx="1201.1" cy="765.5" r="1.2" stroke="none"/><circle cx="1206.6" cy="767.4" r="1.2" stroke="none"/><circle cx="1210.5" cy="768.6" r="1.2" stroke="none"/><circle cx="1218.3" cy="770.9" r="1.2" stroke="none"/><circle cx="1222.2" cy="771.4" r="1.1" stroke="none"/><circle cx="1229.2" cy="769.4" r="1.4" stroke="none"/><circle cx="1235.4" cy="767.8" r="1.6" stroke="none"/><circle cx="1241.6" cy="766.7" r="1.6" stroke="none"/><circle cx="1247.8" cy="765.5" r="1.7" stroke="none"/><circle cx="1252.5" cy="703.2" r="1.9" stroke="none"/><circle cx="1254.8" cy="705.6" r="1.6" stroke="none"/><circle cx="1236.9" cy="715.7" r="1.6" stroke="none"/><circle cx="1237.9" cy="718.8" r="1.4" stroke="none"/><circle cx="1233.8" cy="740.6" r="1.6" stroke="none"/><circle cx="1234.6" cy="746.0" r="1.4" stroke="none"/><circle cx="1254.8" cy="729.7" r="1.6" stroke="none"/><circle cx="1281.3" cy="767.8" r="1.4" stroke="none"/><circle cx="1286.0" cy="763.2" r="1.4" stroke="none"/><circle cx="1290.7" cy="758.5" r="1.9" stroke="none"/><circle cx="1294.5" cy="756.5" r="1.6" stroke="none"/></g>
</g>
<g id="maplabels" font-family="'DejaVu Sans', 'Liberation Sans', sans-serif" font-weight="200" fill="#fff" stroke="#fff" stroke-width="0.55" text-anchor="middle">
<g clip-path="url(#cWA)">
<text transform="translate(1275.9 398.8) rotate(10) scale(0.576 1)" y="9.3" font-size="25.6" vector-effect="non-scaling-stroke">WASH</text>
<text transform="translate(1258.7 416.7) rotate(10) scale(0.674 1)" y="9.3" font-size="25.6" vector-effect="non-scaling-stroke">INGTON</text>
</g>
<g clip-path="url(#cOR)">
<text transform="translate(1251.0 446.3) rotate(8) scale(0.853 1)" y="14.8" font-size="40.6" vector-effect="non-scaling-stroke">ORE</text>
<text transform="translate(1241.6 471.2) rotate(10) scale(0.928 1)" y="13.2" font-size="36.3" vector-effect="non-scaling-stroke">GON</text>
</g>
<g clip-path="url(#cID)">
<text transform="translate(1315.6 457.2) rotate(78) scale(0.598 1)" y="17.9" font-size="49.1" vector-effect="non-scaling-stroke">IDAHO</text>
</g>
<g clip-path="url(#cMT)">
<text transform="translate(1372.4 433.0) rotate(8) scale(0.277 1)" y="28.0" font-size="76.9" vector-effect="non-scaling-stroke">MONTANA</text>
</g>
<g clip-path="url(#cWY)">
<text transform="translate(1389.5 485.2) rotate(5) scale(0.764 1)" y="12.5" font-size="34.2" vector-effect="non-scaling-stroke">WYO</text>
<text transform="translate(1386.4 511.7) rotate(5) scale(0.714 1)" y="12.5" font-size="34.2" vector-effect="non-scaling-stroke">MING</text>
</g>
<g clip-path="url(#cND)">
<text transform="translate(1468.9 426.8) rotate(2) scale(0.706 1)" y="9.0" font-size="24.6" vector-effect="non-scaling-stroke">NORTH</text>
<text transform="translate(1468.9 446.3) rotate(2) scale(0.638 1)" y="9.3" font-size="25.6" vector-effect="non-scaling-stroke">DAKOTA</text>
</g>
<g clip-path="url(#cSD)">
<text transform="translate(1468.9 475.9) rotate(3) scale(0.713 1)" y="9.7" font-size="26.7" vector-effect="non-scaling-stroke">SOUTH</text>
<text transform="translate(1468.1 496.1) rotate(3) scale(0.711 1)" y="9.0" font-size="24.6" vector-effect="non-scaling-stroke">DAKOTA</text>
</g>
<g clip-path="url(#cNE)">
<text transform="translate(1471.2 527.2) rotate(6) scale(0.332 1)" y="17.1" font-size="47.0" vector-effect="non-scaling-stroke">NEBRASKA</text>
</g>
<g clip-path="url(#cKS)">
<text transform="translate(1490.7 572.4) rotate(3) scale(0.443 1)" y="17.1" font-size="47.0" vector-effect="non-scaling-stroke">KANSAS</text>
</g>
<g clip-path="url(#cCO)">
<text transform="translate(1405.1 549.0) rotate(5) scale(0.692 1)" y="12.5" font-size="34.2" vector-effect="non-scaling-stroke">COLO</text>
<text transform="translate(1403.5 577.1) rotate(5) scale(0.714 1)" y="12.5" font-size="34.2" vector-effect="non-scaling-stroke">RADO</text>
</g>
<g clip-path="url(#cUT)">
<text transform="translate(1330.3 525.7) rotate(4) scale(0.735 1)" y="13.2" font-size="36.3" vector-effect="non-scaling-stroke">UT</text>
<text transform="translate(1331.1 563.0) rotate(5) scale(0.828 1)" y="14.8" font-size="40.6" vector-effect="non-scaling-stroke">AH</text>
</g>
<g clip-path="url(#cNV)">
<text transform="translate(1275.9 517.9) rotate(12) scale(0.589 1)" y="18.7" font-size="51.3" vector-effect="non-scaling-stroke">NEV</text>
<text transform="translate(1272.0 560.7) rotate(25) scale(0.469 1)" y="18.7" font-size="51.3" vector-effect="non-scaling-stroke">ADA</text>
</g>
<g clip-path="url(#cCA)">
<text transform="translate(1228.4 561.5) rotate(60) scale(0.515 1)" y="18.7" font-size="51.3" vector-effect="non-scaling-stroke">CALIFORNIA</text>
</g>
<g clip-path="url(#cAZ)">
<text transform="translate(1325.7 609.8) rotate(5) scale(0.713 1)" y="17.1" font-size="47.0" vector-effect="non-scaling-stroke">ARI</text>
<text transform="translate(1317.9 650.3) rotate(15) scale(0.478 1)" y="16.3" font-size="44.8" vector-effect="non-scaling-stroke">ZONA</text>
</g>
<g clip-path="url(#cNM)">
<text transform="translate(1395.7 611.4) rotate(3) scale(0.616 1)" y="15.6" font-size="42.7" vector-effect="non-scaling-stroke">NEW</text>
<text transform="translate(1394.2 648.7) rotate(3) scale(0.407 1)" y="14.8" font-size="40.6" vector-effect="non-scaling-stroke">MEXICO</text>
</g>
<g clip-path="url(#cTX)">
<text transform="translate(1475.1 684.5) rotate(12) scale(0.468 1)" y="36.6" font-size="100.4" vector-effect="non-scaling-stroke">TEXAS</text>
</g>
<g clip-path="url(#cOK)">
<text transform="translate(1512.5 616.0) rotate(3) scale(0.988 1)" y="8.6" font-size="23.5" vector-effect="non-scaling-stroke">OKLA</text>
<text transform="translate(1512.5 633.2) rotate(3) scale(0.900 1)" y="8.2" font-size="22.4" vector-effect="non-scaling-stroke">HOMA</text>
</g>
<g clip-path="url(#cAK)">
<text transform="translate(1310.1 697.0) rotate(0) scale(0.551 1)" y="17.1" font-size="47.0" vector-effect="non-scaling-stroke">ALA</text>
<text transform="translate(1299.2 728.9) rotate(-8) scale(0.836 1)" y="14.8" font-size="40.6" vector-effect="non-scaling-stroke">SKA</text>
</g>
<g clip-path="url(#cHI)">
<text transform="translate(1452.6 757.7) rotate(15) scale(0.812 1)" y="4.7" font-size="12.8" vector-effect="non-scaling-stroke">HI</text>
</g>
<g clip-path="url(#cMN)">
<text transform="translate(1538.9 435.4) rotate(3) scale(0.591 1)" y="17.1" font-size="47.0" vector-effect="non-scaling-stroke">MIN</text>
<text transform="translate(1534.2 463.4) rotate(3) scale(0.476 1)" y="14.8" font-size="40.6" vector-effect="non-scaling-stroke">NES</text>
<text transform="translate(1534.2 486.8) rotate(3) scale(0.875 1)" y="7.8" font-size="21.4" vector-effect="non-scaling-stroke">OTA</text>
</g>
<g clip-path="url(#cWI)">
<text transform="translate(1581.0 463.4) rotate(15) scale(0.869 1)" y="10.9" font-size="29.9" vector-effect="non-scaling-stroke">WIS</text>
<text transform="translate(1588.7 485.2) rotate(10) scale(0.825 1)" y="7.4" font-size="20.3" vector-effect="non-scaling-stroke">CON</text>
<text transform="translate(1587.2 502.3) rotate(0) scale(1.203 1)" y="5.1" font-size="13.9" vector-effect="non-scaling-stroke">SIN</text>
</g>
<g clip-path="url(#cMI)">
<text transform="translate(1637.0 472.7) rotate(-5) scale(0.561 1)" y="10.9" font-size="29.9" vector-effect="non-scaling-stroke">MIC</text>
<text transform="translate(1643.2 489.1) rotate(0) scale(1.100 1)" y="7.4" font-size="20.3" vector-effect="non-scaling-stroke">HI</text>
<text transform="translate(1646.3 505.4) rotate(0) scale(0.869 1)" y="7.4" font-size="20.3" vector-effect="non-scaling-stroke">GAN</text>
</g>
<g clip-path="url(#cIA)">
<text transform="translate(1548.3 521.0) rotate(-2) scale(0.481 1)" y="17.1" font-size="47.0" vector-effect="non-scaling-stroke">IOWA</text>
</g>
<g clip-path="url(#cIL)">
<text transform="translate(1596.5 525.7) rotate(3) scale(0.676 1)" y="10.1" font-size="27.8" vector-effect="non-scaling-stroke">ILL</text>
<text transform="translate(1596.5 549.0) rotate(3) scale(0.613 1)" y="10.1" font-size="27.8" vector-effect="non-scaling-stroke">INO</text>
<text transform="translate(1602.0 573.9) rotate(5) scale(0.616 1)" y="10.9" font-size="29.9" vector-effect="non-scaling-stroke">IS</text>
</g>
<g clip-path="url(#cIN)">
<text transform="translate(1627.7 527.2) rotate(0) scale(0.851 1)" y="9.0" font-size="24.6" vector-effect="non-scaling-stroke">IN</text>
<text transform="translate(1632.3 545.9) rotate(0) scale(0.675 1)" y="8.2" font-size="22.4" vector-effect="non-scaling-stroke">DIA</text>
<text transform="translate(1630.8 564.6) rotate(0) scale(0.882 1)" y="5.8" font-size="16.0" vector-effect="non-scaling-stroke">NA</text>
</g>
<g clip-path="url(#cOH)">
<text transform="translate(1671.2 525.7) rotate(-3) scale(0.669 1)" y="13.2" font-size="36.3" vector-effect="non-scaling-stroke">OH</text>
<text transform="translate(1669.7 545.9) rotate(-3) scale(0.962 1)" y="8.2" font-size="22.4" vector-effect="non-scaling-stroke">IO</text>
</g>
<g clip-path="url(#cPA)">
<text transform="translate(1727.3 508.6) rotate(-10) scale(0.663 1)" y="8.2" font-size="22.4" vector-effect="non-scaling-stroke">PENNSY</text>
<text transform="translate(1730.4 524.1) rotate(-8) scale(0.892 1)" y="6.6" font-size="18.2" vector-effect="non-scaling-stroke">LVANIA</text>
</g>
<g clip-path="url(#cNY)">
<text transform="translate(1747.5 463.4) rotate(-25) scale(0.498 1)" y="8.2" font-size="22.4" vector-effect="non-scaling-stroke">NEW</text>
<text transform="translate(1738.2 485.2) rotate(-15) scale(0.720 1)" y="10.9" font-size="29.9" vector-effect="non-scaling-stroke">YORK</text>
</g>
<g clip-path="url(#cKY)">
<text transform="translate(1644.8 579.4) rotate(-15) scale(0.409 1)" y="12.5" font-size="34.2" vector-effect="non-scaling-stroke">KENTUCKY</text>
</g>
<g clip-path="url(#cWV)">
<text transform="translate(1702.4 553.7) rotate(-10) scale(0.409 1)" y="12.5" font-size="34.2" vector-effect="non-scaling-stroke">WV</text>
</g>
<g clip-path="url(#cVA)">
<text transform="translate(1721.1 567.7) rotate(-14) scale(0.731 1)" y="9.7" font-size="26.7" vector-effect="non-scaling-stroke">VIRGINIA</text>
</g>
<g clip-path="url(#cME)">
<text transform="translate(1799.7 422.9) rotate(-72) scale(0.476 1)" y="14.8" font-size="40.6" vector-effect="non-scaling-stroke">MAINE</text>
</g>
<g clip-path="url(#cVT)">
<text transform="translate(1769.3 451.7) rotate(0) scale(0.375 1)" y="9.3" font-size="25.6" vector-effect="non-scaling-stroke">VT</text>
</g>
<g clip-path="url(#cNH)">
<text transform="translate(1784.9 451.0) rotate(-78) scale(1.404 1)" y="3.5" font-size="9.6" vector-effect="non-scaling-stroke">NH</text>
</g>
<g clip-path="url(#cMA)">
<text transform="translate(1788.0 472.7) rotate(-10) scale(1.035 1)" y="3.9" font-size="10.7" vector-effect="non-scaling-stroke">MASS</text>
</g>
<g clip-path="url(#cCT)">
<text transform="translate(1781.8 489.9) rotate(-10) scale(0.891 1)" y="3.9" font-size="10.7" vector-effect="non-scaling-stroke">CT</text>
</g>
<g clip-path="url(#cNJ)">
<text transform="translate(1767.0 513.2) rotate(80) scale(1.709 1)" y="3.5" font-size="9.6" vector-effect="non-scaling-stroke">NJ</text>
</g>
<g clip-path="url(#cMD)">
<text transform="translate(1742.9 537.4) rotate(-10) scale(0.804 1)" y="3.9" font-size="10.7" vector-effect="non-scaling-stroke">MD</text>
<text transform="translate(1767.0 539.7) rotate(80) scale(0.910 1)" y="3.1" font-size="8.5" vector-effect="non-scaling-stroke">DE</text>
</g>
<g clip-path="url(#cMO)">
<text transform="translate(1551.4 561.5) rotate(3) scale(0.411 1)" y="14.8" font-size="40.6" vector-effect="non-scaling-stroke">MISS</text>
<text transform="translate(1565.4 587.9) rotate(0) scale(0.726 1)" y="10.9" font-size="29.9" vector-effect="non-scaling-stroke">OURI</text>
</g>
<g clip-path="url(#cTN)">
<text transform="translate(1640.1 606.7) rotate(-9) scale(0.612 1)" y="8.2" font-size="22.4" vector-effect="non-scaling-stroke">TENNESSEE</text>
</g>
<g clip-path="url(#cNC)">
<text transform="translate(1694.6 602.8) rotate(-12) scale(0.580 1)" y="5.4" font-size="14.9" vector-effect="non-scaling-stroke">NORTH</text>
<text transform="translate(1736.6 593.5) rotate(-10) scale(0.340 1)" y="11.7" font-size="32.0" vector-effect="non-scaling-stroke">CAROLINA</text>
</g>
<g clip-path="url(#cSC)">
<text transform="translate(1707.1 622.3) rotate(5) scale(0.691 1)" y="5.8" font-size="16.0" vector-effect="non-scaling-stroke">SOUTH</text>
<text transform="translate(1717.9 636.3) rotate(25) scale(0.453 1)" y="5.8" font-size="16.0" vector-effect="non-scaling-stroke">CAROLINA</text>
</g>
<g clip-path="url(#cGA)">
<text transform="translate(1675.9 634.7) rotate(35) scale(0.469 1)" y="10.9" font-size="29.9" vector-effect="non-scaling-stroke">GEOR</text>
<text transform="translate(1685.3 666.6) rotate(0) scale(1.012 1)" y="9.0" font-size="24.6" vector-effect="non-scaling-stroke">GIA</text>
</g>
<g clip-path="url(#cAL)">
<text transform="translate(1635.4 633.2) rotate(0) scale(0.752 1)" y="9.7" font-size="26.7" vector-effect="non-scaling-stroke">AL</text>
<text transform="translate(1638.6 656.5) rotate(0) scale(0.618 1)" y="8.2" font-size="22.4" vector-effect="non-scaling-stroke">ABA</text>
<text transform="translate(1637.0 673.6) rotate(0) scale(0.943 1)" y="5.8" font-size="16.0" vector-effect="non-scaling-stroke">MA</text>
</g>
<g clip-path="url(#cMS)">
<text transform="translate(1601.2 634.7) rotate(0) scale(0.553 1)" y="9.7" font-size="26.7" vector-effect="non-scaling-stroke">MIS</text>
<text transform="translate(1601.2 655.0) rotate(0) scale(0.490 1)" y="9.0" font-size="24.6" vector-effect="non-scaling-stroke">SISS</text>
<text transform="translate(1601.2 678.3) rotate(0) scale(0.493 1)" y="10.9" font-size="29.9" vector-effect="non-scaling-stroke">IPPI</text>
</g>
<g clip-path="url(#cLA)">
<text transform="translate(1565.4 670.5) rotate(0) scale(0.410 1)" y="10.1" font-size="27.8" vector-effect="non-scaling-stroke">LOUIS</text>
<text transform="translate(1573.2 697.0) rotate(3) scale(0.556 1)" y="9.7" font-size="26.7" vector-effect="non-scaling-stroke">IANA</text>
</g>
<g clip-path="url(#cAR)">
<text transform="translate(1565.4 616.0) rotate(-2) scale(0.536 1)" y="11.7" font-size="32.0" vector-effect="non-scaling-stroke">ARKA</text>
<text transform="translate(1562.3 642.5) rotate(0) scale(0.540 1)" y="10.9" font-size="29.9" vector-effect="non-scaling-stroke">NSAS</text>
</g>
<g clip-path="url(#cFL)">
<text transform="translate(1708.6 715.7) rotate(58) scale(0.764 1)" y="10.9" font-size="29.9" vector-effect="non-scaling-stroke">FLORIDA</text>
</g>
</g>
<g font-family="'Liberation Sans', sans-serif" font-weight="bold" font-size="94.6" fill="#000080" stroke="#000080" stroke-width="6.0" stroke-linejoin="miter" stroke-miterlimit="2" filter="url(#ts)">
<text y="520.8" aria-label="So many"><tspan x="803.6" textLength="32.4" lengthAdjust="spacingAndGlyphs">S</tspan><tspan x="842.4" textLength="33.5" lengthAdjust="spacingAndGlyphs" font-size="103.8">o</tspan><tspan> </tspan><tspan x="899.3" textLength="61.4" lengthAdjust="spacingAndGlyphs" font-size="103.8">m</tspan><tspan x="963.8" textLength="31.2" lengthAdjust="spacingAndGlyphs" font-size="103.8">a</tspan><tspan x="1000.9" textLength="37.8" lengthAdjust="spacingAndGlyphs" font-size="103.8">n</tspan><tspan x="1041.8" textLength="32.9" lengthAdjust="spacingAndGlyphs" font-size="103.8">y</tspan></text>
<text y="635.8" aria-label="STATES,"><tspan x="826.3" textLength="32.5" lengthAdjust="spacingAndGlyphs">S</tspan><tspan x="863.8" textLength="26.5" lengthAdjust="spacingAndGlyphs">T</tspan><tspan x="896.1" textLength="34.6" lengthAdjust="spacingAndGlyphs">A</tspan><tspan x="935.6" textLength="26.5" lengthAdjust="spacingAndGlyphs">T</tspan><tspan x="968.6" textLength="26.7" lengthAdjust="spacingAndGlyphs">E</tspan><tspan x="1001.4" textLength="32.5" lengthAdjust="spacingAndGlyphs">S</tspan><tspan x="1038.2" textLength="16.9" lengthAdjust="spacingAndGlyphs">,</tspan></text>
</g>
<g font-family="'Liberation Serif', serif" font-style="italic" fill="#d40000" filter="url(#ts2)">
<text x="786" y="741.6" font-size="70" textLength="298" lengthAdjust="spacingAndGlyphs">So little time.</text>
</g>
<g font-family="'Liberation Serif', serif" font-style="italic" font-weight="bold" font-size="70.5" filter="url(#ts2)">
<text x="1070" y="893" fill="#000080" textLength="222" lengthAdjust="spacingAndGlyphs">50 States</text>
<text x="1304" y="893" fill="#d40000" textLength="208" lengthAdjust="spacingAndGlyphs">Checklist</text>
</g>

<g stroke="#c9c9d2" stroke-width="1.8" stroke-dasharray="1.8 1.5" fill="none"><line x1="843" y1="958.3" x2="1116" y2="958.3"/><line x1="843" y1="1017.5" x2="1116" y2="1017.5"/><line x1="843" y1="1076.8" x2="1116" y2="1076.8"/><line x1="843" y1="1136.0" x2="1116" y2="1136.0"/><line x1="843" y1="1195.2" x2="1116" y2="1195.2"/><line x1="843" y1="1254.4" x2="1116" y2="1254.4"/><line x1="843" y1="1313.7" x2="1116" y2="1313.7"/><line x1="843" y1="1372.9" x2="1116" y2="1372.9"/><line x1="843" y1="1432.1" x2="1116" y2="1432.1"/><line x1="843" y1="1491.4" x2="1116" y2="1491.4"/><line x1="843" y1="1550.6" x2="1116" y2="1550.6"/><line x1="843" y1="1609.8" x2="1116" y2="1609.8"/><line x1="843" y1="1669.1" x2="1116" y2="1669.1"/><line x1="843" y1="1728.3" x2="1116" y2="1728.3"/><line x1="843" y1="1787.5" x2="1116" y2="1787.5"/><line x1="843" y1="1846.8" x2="1116" y2="1846.8"/><line x1="843" y1="1906.0" x2="1116" y2="1906.0"/><line x1="1196.4" y1="956.7" x2="1469.5" y2="956.7"/><line x1="1196.4" y1="1016.0" x2="1469.5" y2="1016.0"/><line x1="1196.4" y1="1075.2" x2="1469.5" y2="1075.2"/><line x1="1196.4" y1="1134.5" x2="1469.5" y2="1134.5"/><line x1="1196.4" y1="1196.9" x2="1469.5" y2="1196.9"/><line x1="1196.4" y1="1252.6" x2="1469.5" y2="1252.6"/><line x1="1196.4" y1="1311.9" x2="1469.5" y2="1311.9"/><line x1="1196.4" y1="1374.3" x2="1469.5" y2="1374.3"/><line x1="1196.4" y1="1430.5" x2="1469.5" y2="1430.5"/><line x1="1196.4" y1="1489.8" x2="1469.5" y2="1489.8"/><line x1="1196.4" y1="1552.1" x2="1469.5" y2="1552.1"/><line x1="1196.4" y1="1611.2" x2="1469.5" y2="1611.2"/><line x1="1196.4" y1="1667.6" x2="1469.5" y2="1667.6"/><line x1="1196.4" y1="1730.0" x2="1469.5" y2="1730.0"/><line x1="1196.4" y1="1789.3" x2="1469.5" y2="1789.3"/><line x1="1196.4" y1="1844.8" x2="1469.5" y2="1844.8"/><line x1="1196.4" y1="1907.6" x2="1469.5" y2="1907.6"/><line x1="1542" y1="957.1" x2="1815.5" y2="957.1"/><line x1="1542" y1="1019.0" x2="1815.5" y2="1019.0"/><line x1="1542" y1="1073.3" x2="1815.5" y2="1073.3"/><line x1="1542" y1="1132.6" x2="1815.5" y2="1132.6"/><line x1="1542" y1="1194.5" x2="1815.5" y2="1194.5"/><line x1="1542" y1="1256.4" x2="1815.5" y2="1256.4"/><line x1="1542" y1="1310.5" x2="1815.5" y2="1310.5"/><line x1="1542" y1="1376.4" x2="1815.5" y2="1376.4"/><line x1="1542" y1="1431.4" x2="1815.5" y2="1431.4"/><line x1="1542" y1="1493.3" x2="1815.5" y2="1493.3"/><line x1="1542" y1="1553.8" x2="1815.5" y2="1553.8"/><line x1="1542" y1="1613.1" x2="1815.5" y2="1613.1"/><line x1="1542" y1="1670.7" x2="1815.5" y2="1670.7"/><line x1="1542" y1="1726.4" x2="1815.5" y2="1726.4"/><line x1="1542" y1="1785.7" x2="1815.5" y2="1785.7"/><line x1="1542" y1="1843.3" x2="1815.5" y2="1843.3"/></g>
<g fill="none" stroke="#d81e26" stroke-width="2.6" stroke-linejoin="round"><polygon points="801.1,912.1 807.9,926.3 823.5,928.4 812.1,939.3 815.0,954.8 801.1,947.3 787.2,954.8 790.1,939.3 778.7,928.4 794.3,926.3"/><polygon points="801.1,1030.4 807.9,1044.6 823.5,1046.7 812.1,1057.6 815.0,1073.1 801.1,1065.6 787.2,1073.1 790.1,1057.6 778.7,1046.7 794.3,1044.6"/><polygon points="801.1,1148.7 807.9,1163.0 823.5,1165.0 812.1,1175.9 815.0,1191.4 801.1,1183.9 787.2,1191.4 790.1,1175.9 778.7,1165.0 794.3,1163.0"/><polygon points="801.1,1267.1 807.9,1281.3 823.5,1283.4 812.1,1294.2 815.0,1309.8 801.1,1302.3 787.2,1309.8 790.1,1294.2 778.7,1283.4 794.3,1281.3"/><polygon points="801.1,1385.4 807.9,1399.6 823.5,1401.7 812.1,1412.6 815.0,1428.1 801.1,1420.6 787.2,1428.1 790.1,1412.6 778.7,1401.7 794.3,1399.6"/><polygon points="801.1,1503.7 807.9,1517.9 823.5,1520.0 812.1,1530.9 815.0,1546.4 801.1,1538.9 787.2,1546.4 790.1,1530.9 778.7,1520.0 794.3,1517.9"/><polygon points="801.1,1622.0 807.9,1636.2 823.5,1638.3 812.1,1649.2 815.0,1664.7 801.1,1657.2 787.2,1664.7 790.1,1649.2 778.7,1638.3 794.3,1636.2"/><polygon points="801.1,1740.3 807.9,1754.6 823.5,1756.6 812.1,1767.5 815.0,1783.0 801.1,1775.5 787.2,1783.0 790.1,1767.5 778.7,1756.6 794.3,1754.6"/><polygon points="801.1,1858.7 807.9,1872.9 823.5,1875.0 812.1,1885.8 815.0,1901.4 801.1,1893.9 787.2,1901.4 790.1,1885.8 778.7,1875.0 794.3,1872.9"/><polygon points="1150.4,971.3 1157.2,985.5 1172.8,987.6 1161.4,998.4 1164.3,1014.0 1150.4,1006.5 1136.5,1014.0 1139.4,998.4 1128.0,987.6 1143.6,985.5"/><polygon points="1150.4,1089.6 1157.2,1103.8 1172.8,1105.9 1161.4,1116.8 1164.3,1132.3 1150.4,1124.8 1136.5,1132.3 1139.4,1116.8 1128.0,1105.9 1143.6,1103.8"/><polygon points="1150.4,1207.9 1157.2,1222.1 1172.8,1224.2 1161.4,1235.1 1164.3,1250.6 1150.4,1243.1 1136.5,1250.6 1139.4,1235.1 1128.0,1224.2 1143.6,1222.1"/><polygon points="1150.4,1326.2 1157.2,1340.4 1172.8,1342.5 1161.4,1353.4 1164.3,1368.9 1150.4,1361.4 1136.5,1368.9 1139.4,1353.4 1128.0,1342.5 1143.6,1340.4"/><polygon points="1150.4,1444.5 1157.2,1458.8 1172.8,1460.8 1161.4,1471.7 1164.3,1487.2 1150.4,1479.7 1136.5,1487.2 1139.4,1471.7 1128.0,1460.8 1143.6,1458.8"/><polygon points="1150.4,1562.9 1157.2,1577.1 1172.8,1579.2 1161.4,1590.0 1164.3,1605.6 1150.4,1598.1 1136.5,1605.6 1139.4,1590.0 1128.0,1579.2 1143.6,1577.1"/><polygon points="1150.4,1681.2 1157.2,1695.4 1172.8,1697.5 1161.4,1708.4 1164.3,1723.9 1150.4,1716.4 1136.5,1723.9 1139.4,1708.4 1128.0,1697.5 1143.6,1695.4"/><polygon points="1150.4,1799.5 1157.2,1813.7 1172.8,1815.8 1161.4,1826.7 1164.3,1842.2 1150.4,1834.7 1136.5,1842.2 1139.4,1826.7 1128.0,1815.8 1143.6,1813.7"/><polygon points="1504.2,912.1 1511.0,926.3 1526.6,928.4 1515.2,939.3 1518.1,954.8 1504.2,947.3 1490.3,954.8 1493.2,939.3 1481.8,928.4 1497.4,926.3"/><polygon points="1504.2,1030.4 1511.0,1044.6 1526.6,1046.7 1515.2,1057.6 1518.1,1073.1 1504.2,1065.6 1490.3,1073.1 1493.2,1057.6 1481.8,1046.7 1497.4,1044.6"/><polygon points="1504.2,1148.7 1511.0,1163.0 1526.6,1165.0 1515.2,1175.9 1518.1,1191.4 1504.2,1183.9 1490.3,1191.4 1493.2,1175.9 1481.8,1165.0 1497.4,1163.0"/><polygon points="1504.2,1267.1 1511.0,1281.3 1526.6,1283.4 1515.2,1294.2 1518.1,1309.8 1504.2,1302.3 1490.3,1309.8 1493.2,1294.2 1481.8,1283.4 1497.4,1281.3"/><polygon points="1504.2,1385.4 1511.0,1399.6 1526.6,1401.7 1515.2,1412.6 1518.1,1428.1 1504.2,1420.6 1490.3,1428.1 1493.2,1412.6 1481.8,1401.7 1497.4,1399.6"/><polygon points="1504.2,1503.7 1511.0,1517.9 1526.6,1520.0 1515.2,1530.9 1518.1,1546.4 1504.2,1538.9 1490.3,1546.4 1493.2,1530.9 1481.8,1520.0 1497.4,1517.9"/><polygon points="1504.2,1622.0 1511.0,1636.2 1526.6,1638.3 1515.2,1649.2 1518.1,1664.7 1504.2,1657.2 1490.3,1664.7 1493.2,1649.2 1481.8,1638.3 1497.4,1636.2"/><polygon points="1504.2,1740.3 1511.0,1754.6 1526.6,1756.6 1515.2,1767.5 1518.1,1783.0 1504.2,1775.5 1490.3,1783.0 1493.2,1767.5 1481.8,1756.6 1497.4,1754.6"/></g>
<g fill="none" stroke="#14148a" stroke-width="2.6" stroke-linejoin="round"><polygon points="801.1,971.3 807.9,985.5 823.5,987.6 812.1,998.4 815.0,1014.0 801.1,1006.5 787.2,1014.0 790.1,998.4 778.7,987.6 794.3,985.5"/><polygon points="801.1,1089.6 807.9,1103.8 823.5,1105.9 812.1,1116.8 815.0,1132.3 801.1,1124.8 787.2,1132.3 790.1,1116.8 778.7,1105.9 794.3,1103.8"/><polygon points="801.1,1207.9 807.9,1222.1 823.5,1224.2 812.1,1235.1 815.0,1250.6 801.1,1243.1 787.2,1250.6 790.1,1235.1 778.7,1224.2 794.3,1222.1"/><polygon points="801.1,1326.2 807.9,1340.4 823.5,1342.5 812.1,1353.4 815.0,1368.9 801.1,1361.4 787.2,1368.9 790.1,1353.4 778.7,1342.5 794.3,1340.4"/><polygon points="801.1,1444.5 807.9,1458.8 823.5,1460.8 812.1,1471.7 815.0,1487.2 801.1,1479.7 787.2,1487.2 790.1,1471.7 778.7,1460.8 794.3,1458.8"/><polygon points="801.1,1562.9 807.9,1577.1 823.5,1579.2 812.1,1590.0 815.0,1605.6 801.1,1598.1 787.2,1605.6 790.1,1590.0 778.7,1579.2 794.3,1577.1"/><polygon points="801.1,1681.2 807.9,1695.4 823.5,1697.5 812.1,1708.4 815.0,1723.9 801.1,1716.4 787.2,1723.9 790.1,1708.4 778.7,1697.5 794.3,1695.4"/><polygon points="801.1,1799.5 807.9,1813.7 823.5,1815.8 812.1,1826.7 815.0,1842.2 801.1,1834.7 787.2,1842.2 790.1,1826.7 778.7,1815.8 794.3,1813.7"/><polygon points="1150.4,912.1 1157.2,926.3 1172.8,928.4 1161.4,939.3 1164.3,954.8 1150.4,947.3 1136.5,954.8 1139.4,939.3 1128.0,928.4 1143.6,926.3"/><polygon points="1150.4,1030.4 1157.2,1044.6 1172.8,1046.7 1161.4,1057.6 1164.3,1073.1 1150.4,1065.6 1136.5,1073.1 1139.4,1057.6 1128.0,1046.7 1143.6,1044.6"/><polygon points="1150.4,1148.7 1157.2,1163.0 1172.8,1165.0 1161.4,1175.9 1164.3,1191.4 1150.4,1183.9 1136.5,1191.4 1139.4,1175.9 1128.0,1165.0 1143.6,1163.0"/><polygon points="1150.4,1267.1 1157.2,1281.3 1172.8,1283.4 1161.4,1294.2 1164.3,1309.8 1150.4,1302.3 1136.5,1309.8 1139.4,1294.2 1128.0,1283.4 1143.6,1281.3"/><polygon points="1150.4,1385.4 1157.2,1399.6 1172.8,1401.7 1161.4,1412.6 1164.3,1428.1 1150.4,1420.6 1136.5,1428.1 1139.4,1412.6 1128.0,1401.7 1143.6,1399.6"/><polygon points="1150.4,1503.7 1157.2,1517.9 1172.8,1520.0 1161.4,1530.9 1164.3,1546.4 1150.4,1538.9 1136.5,1546.4 1139.4,1530.9 1128.0,1520.0 1143.6,1517.9"/><polygon points="1150.4,1622.0 1157.2,1636.2 1172.8,1638.3 1161.4,1649.2 1164.3,1664.7 1150.4,1657.2 1136.5,1664.7 1139.4,1649.2 1128.0,1638.3 1143.6,1636.2"/><polygon points="1150.4,1740.3 1157.2,1754.6 1172.8,1756.6 1161.4,1767.5 1164.3,1783.0 1150.4,1775.5 1136.5,1783.0 1139.4,1767.5 1128.0,1756.6 1143.6,1754.6"/><polygon points="1150.4,1858.7 1157.2,1872.9 1172.8,1875.0 1161.4,1885.8 1164.3,1901.4 1150.4,1893.9 1136.5,1901.4 1139.4,1885.8 1128.0,1875.0 1143.6,1872.9"/><polygon points="1504.2,971.3 1511.0,985.5 1526.6,987.6 1515.2,998.4 1518.1,1014.0 1504.2,1006.5 1490.3,1014.0 1493.2,998.4 1481.8,987.6 1497.4,985.5"/><polygon points="1504.2,1089.6 1511.0,1103.8 1526.6,1105.9 1515.2,1116.8 1518.1,1132.3 1504.2,1124.8 1490.3,1132.3 1493.2,1116.8 1481.8,1105.9 1497.4,1103.8"/><polygon points="1504.2,1207.9 1511.0,1222.1 1526.6,1224.2 1515.2,1235.1 1518.1,1250.6 1504.2,1243.1 1490.3,1250.6 1493.2,1235.1 1481.8,1224.2 1497.4,1222.1"/><polygon points="1504.2,1326.2 1511.0,1340.4 1526.6,1342.5 1515.2,1353.4 1518.1,1368.9 1504.2,1361.4 1490.3,1368.9 1493.2,1353.4 1481.8,1342.5 1497.4,1340.4"/><polygon points="1504.2,1444.5 1511.0,1458.8 1526.6,1460.8 1515.2,1471.7 1518.1,1487.2 1504.2,1479.7 1490.3,1487.2 1493.2,1471.7 1481.8,1460.8 1497.4,1458.8"/><polygon points="1504.2,1562.9 1511.0,1577.1 1526.6,1579.2 1515.2,1590.0 1518.1,1605.6 1504.2,1598.1 1490.3,1605.6 1493.2,1590.0 1481.8,1579.2 1497.4,1577.1"/><polygon points="1504.2,1681.2 1511.0,1695.4 1526.6,1697.5 1515.2,1708.4 1518.1,1723.9 1504.2,1716.4 1490.3,1723.9 1493.2,1708.4 1481.8,1697.5 1497.4,1695.4"/><polygon points="1504.2,1799.5 1511.0,1813.7 1526.6,1815.8 1515.2,1826.7 1518.1,1842.2 1504.2,1834.7 1490.3,1842.2 1493.2,1826.7 1481.8,1815.8 1497.4,1813.7"/></g>
<g font-family="'Liberation Sans', sans-serif" font-size="28.3" fill="#2a2a9a" stroke="#fff" stroke-width="0.7"><text x="843.3" y="941.5" textLength="101.2" lengthAdjust="spacingAndGlyphs">Alabama</text>
<text x="843.3" y="1001.0" textLength="75.7" lengthAdjust="spacingAndGlyphs">Alaska</text>
<text x="843.3" y="1060.4" textLength="86.2" lengthAdjust="spacingAndGlyphs">Arizona</text>
<text x="843.3" y="1119.9" textLength="107.9" lengthAdjust="spacingAndGlyphs">Arkansas</text>
<text x="843.3" y="1179.3" textLength="107.9" lengthAdjust="spacingAndGlyphs">California</text>
<text x="843.3" y="1238.8" textLength="95.7" lengthAdjust="spacingAndGlyphs">Colorado</text>
<text x="843.3" y="1298.2" textLength="130.5" lengthAdjust="spacingAndGlyphs">Connecticut</text>
<text x="843.3" y="1357.7" textLength="106.0" lengthAdjust="spacingAndGlyphs">Delaware</text>
<text x="843.3" y="1417.1" textLength="73.8" lengthAdjust="spacingAndGlyphs">Florida</text>
<text x="843.3" y="1476.6" textLength="85.2" lengthAdjust="spacingAndGlyphs">Georgia</text>
<text x="843.3" y="1536.0" textLength="74.3" lengthAdjust="spacingAndGlyphs">Hawaii</text>
<text x="843.3" y="1595.5" textLength="59.5" lengthAdjust="spacingAndGlyphs">Idaho</text>
<text x="843.3" y="1654.9" textLength="70.2" lengthAdjust="spacingAndGlyphs">Illinois</text>
<text x="843.3" y="1714.4" textLength="82.1" lengthAdjust="spacingAndGlyphs">Indiana</text>
<text x="843.3" y="1773.8" textLength="52.4" lengthAdjust="spacingAndGlyphs">Iowa</text>
<text x="843.3" y="1833.2" textLength="84.0" lengthAdjust="spacingAndGlyphs">Kansas</text>
<text x="843.3" y="1892.7" textLength="106.0" lengthAdjust="spacingAndGlyphs">Kentucky</text>
<text x="1197.6" y="941.5" textLength="107.6" lengthAdjust="spacingAndGlyphs">Louisiana</text>
<text x="1197.6" y="1001.0" textLength="68.8" lengthAdjust="spacingAndGlyphs">Maine</text>
<text x="1197.6" y="1060.4" textLength="107.1" lengthAdjust="spacingAndGlyphs">Maryland</text>
<text x="1197.6" y="1119.9" textLength="171.9" lengthAdjust="spacingAndGlyphs">Massachusetts</text>
<text x="1197.6" y="1179.3" textLength="100.5" lengthAdjust="spacingAndGlyphs">Michigan</text>
<text x="1197.6" y="1238.8" textLength="119.0" lengthAdjust="spacingAndGlyphs">Minnesota</text>
<text x="1197.6" y="1298.2" textLength="123.6" lengthAdjust="spacingAndGlyphs">Mississippi</text>
<text x="1197.6" y="1357.7" textLength="96.4" lengthAdjust="spacingAndGlyphs">Missouri</text>
<text x="1197.6" y="1417.1" textLength="105.2" lengthAdjust="spacingAndGlyphs">Montana</text>
<text x="1197.6" y="1476.6" textLength="110.5" lengthAdjust="spacingAndGlyphs">Nebraska</text>
<text x="1197.6" y="1536.0" textLength="83.3" lengthAdjust="spacingAndGlyphs">Nevada</text>
<text x="1197.6" y="1595.5" textLength="186.9" lengthAdjust="spacingAndGlyphs">New Hampshire</text>
<text x="1197.6" y="1654.9" textLength="137.4" lengthAdjust="spacingAndGlyphs">New Jersey</text>
<text x="1197.6" y="1714.4" textLength="137.9" lengthAdjust="spacingAndGlyphs">New Mexico</text>
<text x="1197.6" y="1773.8" textLength="112.4" lengthAdjust="spacingAndGlyphs">New York</text>
<text x="1197.6" y="1833.2" textLength="171.9" lengthAdjust="spacingAndGlyphs">North Carolina</text>
<text x="1197.6" y="1892.7" textLength="159.3" lengthAdjust="spacingAndGlyphs">North Dakota</text>
<text x="1542.1" y="941.8" textLength="52.4" lengthAdjust="spacingAndGlyphs">Ohio</text>
<text x="1542.1" y="1001.6" textLength="120.2" lengthAdjust="spacingAndGlyphs">Oklahoma</text>
<text x="1542.1" y="1061.4" textLength="85.2" lengthAdjust="spacingAndGlyphs">Oregon</text>
<text x="1542.1" y="1121.2" textLength="155.5" lengthAdjust="spacingAndGlyphs">Pennsylvania</text>
<text x="1542.1" y="1181.0" textLength="149.5" lengthAdjust="spacingAndGlyphs">Rhode Island</text>
<text x="1542.1" y="1240.8" textLength="175.0" lengthAdjust="spacingAndGlyphs">South Carolina</text>
<text x="1542.1" y="1300.6" textLength="161.9" lengthAdjust="spacingAndGlyphs">South Dakota</text>
<text x="1539.8" y="1360.4" textLength="123.8" lengthAdjust="spacingAndGlyphs">Tennessee</text>
<text x="1539.8" y="1420.2" textLength="67.9" lengthAdjust="spacingAndGlyphs">Texas</text>
<text x="1542.1" y="1480.0" textLength="56.4" lengthAdjust="spacingAndGlyphs">Utah</text>
<text x="1542.1" y="1539.8" textLength="104.0" lengthAdjust="spacingAndGlyphs">Vermont</text>
<text x="1542.1" y="1599.6" textLength="90.5" lengthAdjust="spacingAndGlyphs">Virginia</text>
<text x="1542.1" y="1659.4" textLength="148.3" lengthAdjust="spacingAndGlyphs">Washington</text>
<text x="1542.1" y="1719.2" textLength="166.7" lengthAdjust="spacingAndGlyphs">West Virginia</text>
<text x="1542.1" y="1779.0" textLength="124.5" lengthAdjust="spacingAndGlyphs">Wisconsin</text>
<text x="1542.1" y="1838.8" textLength="117.4" lengthAdjust="spacingAndGlyphs">Wyoming</text></g>
<circle cx="369.5" cy="1483.7" r="294.5" fill="#bb4455" stroke="#000" stroke-width="2"/>
<g transform="translate(366.5 1485.3) rotate(-17.3)" font-family="'Liberation Sans', sans-serif" font-size="80" fill="#f5f2f8" stroke="#f5f2f8" stroke-width="1.8" text-anchor="middle">
<text transform="translate(-7.6 -24.3) scale(0.929 1)">US LETTER</text>
<text transform="translate(2.7 80.5) scale(0.942 1)">SIZE</text>
</g>
<circle cx="2175.8" cy="1096.8" r="295" fill="#92c6dc" stroke="#000" stroke-width="2"/>
<g transform="translate(2175.5 1098) rotate(17.3) scale(0.99 1)" font-family="'Liberation Sans', sans-serif" font-size="80" fill="#201a8c" stroke="#201a8c" stroke-width="1.8" text-anchor="middle">
<text x="0" y="-24.3">INSTANT</text>
<text x="0" y="80.5">DOWNLOAD</text>
</g>

<rect x="0" y="0" width="2560" height="326" fill="#92c6dc"/>
<g font-family="'Liberation Sans', sans-serif" font-weight="bold" font-size="128.34302325581396" fill="#000" stroke="#000" stroke-width="5.0" stroke-linejoin="miter">
<text y="112.7" aria-label="SO MANY STATES, SO LITTLE TIME"><tspan x="253.8" textLength="73.5" lengthAdjust="spacingAndGlyphs">S</tspan><tspan x="327.1" textLength="99.5" lengthAdjust="spacingAndGlyphs">O</tspan><tspan> </tspan><tspan x="452.2" textLength="116.5" lengthAdjust="spacingAndGlyphs">M</tspan><tspan x="560.4" textLength="97.1" lengthAdjust="spacingAndGlyphs">A</tspan><tspan x="650.1" textLength="94.8" lengthAdjust="spacingAndGlyphs">N</tspan><tspan x="741.9" textLength="89.1" lengthAdjust="spacingAndGlyphs">Y</tspan><tspan> </tspan><tspan x="861.0" textLength="73.1" lengthAdjust="spacingAndGlyphs">S</tspan><tspan x="937.0" textLength="62.9" lengthAdjust="spacingAndGlyphs">T</tspan><tspan x="999.0" textLength="96.1" lengthAdjust="spacingAndGlyphs">A</tspan><tspan x="1092.7" textLength="62.9" lengthAdjust="spacingAndGlyphs">T</tspan><tspan x="1161.2" textLength="58.0" lengthAdjust="spacingAndGlyphs">E</tspan><tspan x="1225.9" textLength="71.8" lengthAdjust="spacingAndGlyphs">S</tspan><tspan x="1299.3" textLength="40.0" lengthAdjust="spacingAndGlyphs">,</tspan><tspan> </tspan><tspan x="1371.7" textLength="73.1" lengthAdjust="spacingAndGlyphs">S</tspan><tspan x="1444.9" textLength="100.0" lengthAdjust="spacingAndGlyphs">O</tspan><tspan> </tspan><tspan x="1577.4" textLength="58.1" lengthAdjust="spacingAndGlyphs">L</tspan><tspan x="1641.3" textLength="31.1" lengthAdjust="spacingAndGlyphs">I</tspan><tspan x="1675.7" textLength="64.1" lengthAdjust="spacingAndGlyphs">T</tspan><tspan x="1742.2" textLength="63.8" lengthAdjust="spacingAndGlyphs">T</tspan><tspan x="1811.8" textLength="57.0" lengthAdjust="spacingAndGlyphs">L</tspan><tspan x="1875.8" textLength="56.9" lengthAdjust="spacingAndGlyphs">E</tspan><tspan> </tspan><tspan x="1970.1" textLength="63.1" lengthAdjust="spacingAndGlyphs">T</tspan><tspan x="2038.4" textLength="28.9" lengthAdjust="spacingAndGlyphs">I</tspan><tspan x="2065.1" textLength="117.0" lengthAdjust="spacingAndGlyphs">M</tspan><tspan x="2180.5" textLength="57.4" lengthAdjust="spacingAndGlyphs">E</tspan></text>
<text y="269.9" aria-label="50 STATES CHECKLIST PRINTABLE"><tspan x="286.9" textLength="72.1" lengthAdjust="spacingAndGlyphs">5</tspan><tspan x="358.4" textLength="83.3" lengthAdjust="spacingAndGlyphs">0</tspan><tspan> </tspan><tspan x="473.6" textLength="72.8" lengthAdjust="spacingAndGlyphs">S</tspan><tspan x="549.6" textLength="63.1" lengthAdjust="spacingAndGlyphs">T</tspan><tspan x="610.9" textLength="96.1" lengthAdjust="spacingAndGlyphs">A</tspan><tspan x="705.2" textLength="62.9" lengthAdjust="spacingAndGlyphs">T</tspan><tspan x="774.1" textLength="56.9" lengthAdjust="spacingAndGlyphs">E</tspan><tspan x="838.0" textLength="73.6" lengthAdjust="spacingAndGlyphs">S</tspan><tspan> </tspan><tspan x="942.2" textLength="84.6" lengthAdjust="spacingAndGlyphs">C</tspan><tspan x="1028.9" textLength="81.8" lengthAdjust="spacingAndGlyphs">H</tspan><tspan x="1116.6" textLength="57.3" lengthAdjust="spacingAndGlyphs">E</tspan><tspan x="1179.4" textLength="83.9" lengthAdjust="spacingAndGlyphs">C</tspan><tspan x="1264.6" textLength="89.0" lengthAdjust="spacingAndGlyphs">K</tspan><tspan x="1357.5" textLength="55.1" lengthAdjust="spacingAndGlyphs">L</tspan><tspan x="1416.1" textLength="32.2" lengthAdjust="spacingAndGlyphs">I</tspan><tspan x="1453.8" textLength="71.8" lengthAdjust="spacingAndGlyphs">S</tspan><tspan x="1529.1" textLength="62.9" lengthAdjust="spacingAndGlyphs">T</tspan><tspan> </tspan><tspan x="1626.4" textLength="72.5" lengthAdjust="spacingAndGlyphs">P</tspan><tspan x="1701.8" textLength="80.3" lengthAdjust="spacingAndGlyphs">R</tspan><tspan x="1787.6" textLength="32.2" lengthAdjust="spacingAndGlyphs">I</tspan><tspan x="1816.5" textLength="91.9" lengthAdjust="spacingAndGlyphs">N</tspan><tspan x="1911.4" textLength="62.9" lengthAdjust="spacingAndGlyphs">T</tspan><tspan x="1973.4" textLength="95.2" lengthAdjust="spacingAndGlyphs">A</tspan><tspan x="2067.8" textLength="72.4" lengthAdjust="spacingAndGlyphs">B</tspan><tspan x="2143.2" textLength="57.1" lengthAdjust="spacingAndGlyphs">L</tspan><tspan x="2207.2" textLength="57.4" lengthAdjust="spacingAndGlyphs">E</tspan></text>
</g>

<g id="logo">
<g fill="none" stroke-linecap="round" stroke-linejoin="round">
<path d="M2165.5 1875.2 C2215 1866 2290 1861 2338.5 1866.5 M2515.2 1860.3 C2492 1842 2420 1845 2392 1862" stroke="#a9c9e2" stroke-width="2.6"/>
<path d="M2164 1873.5 C2214 1864 2289 1859.5 2337 1865 M2513.6 1858.6 C2490 1840 2418 1843 2390 1860.5" stroke="#4f8fc1" stroke-width="2.2"/>
</g>
<text y="1924" aria-label="Travel50States" font-family="'Liberation Serif', serif" font-style="italic" fill="#4f8fc1"><tspan x="2176" y="1958" font-family="'DejaVu Sans', 'Liberation Sans', sans-serif" font-style="normal" font-weight="200" font-size="118" textLength="50" lengthAdjust="spacingAndGlyphs">T</tspan><tspan x="2219" y="1924" font-size="47" textLength="88" lengthAdjust="spacing">ravel</tspan><tspan x="2309" y="1926" font-size="82" fill="#b3192e" textLength="76" lengthAdjust="spacingAndGlyphs">50</tspan><tspan x="2366" y="1944" font-family="'DejaVu Sans', 'Liberation Sans', sans-serif" font-style="normal" font-weight="200" font-size="106" textLength="52" lengthAdjust="spacingAndGlyphs">S</tspan><tspan x="2418" y="1924" font-size="47" textLength="87" lengthAdjust="spacing">tates</tspan></text>
</g>

</svg></body></html>
